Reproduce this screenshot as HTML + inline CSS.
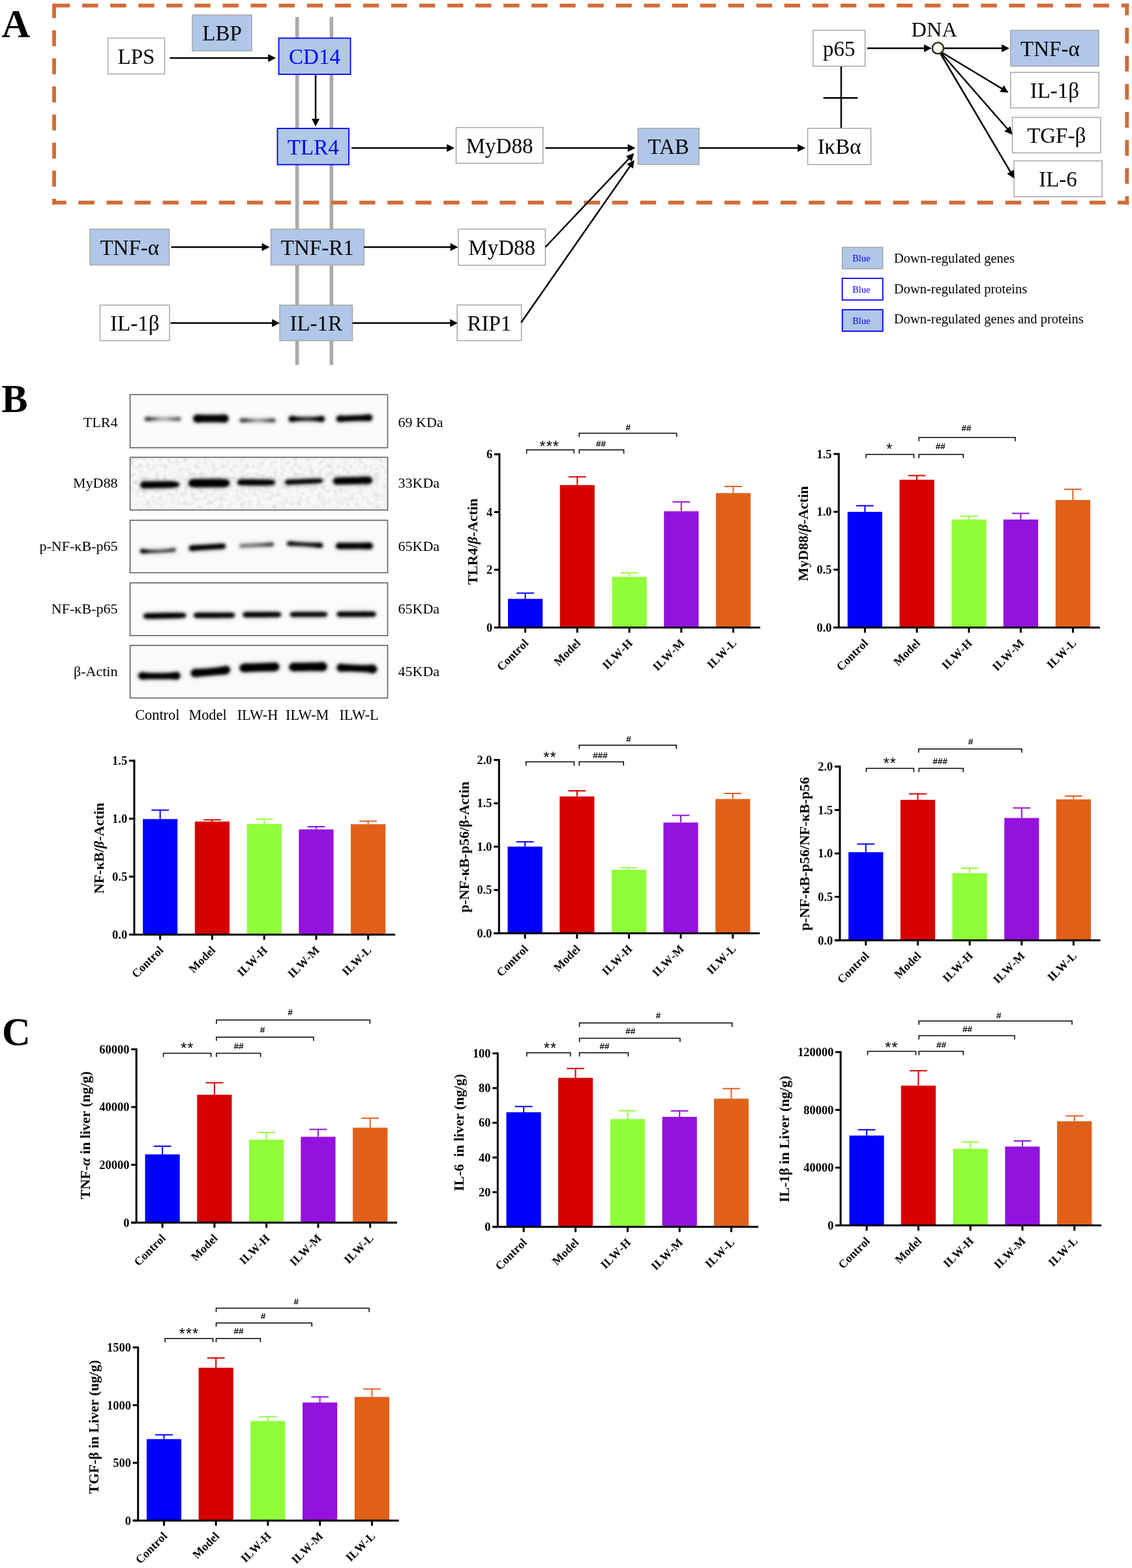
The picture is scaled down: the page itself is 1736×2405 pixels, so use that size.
<!DOCTYPE html>
<html><head><meta charset="utf-8"><title>Figure</title>
<style>html,body{margin:0;padding:0;background:#fff;}text{font-kerning:none;}body{width:1736px;height:2405px;overflow:hidden;}svg{display:block;}</style>
</head><body>
<svg width="1736" height="2405" viewBox="0 0 1736 2405">
<defs><filter id="bl" filterUnits="userSpaceOnUse" x="190" y="590" width="420" height="500"><feGaussianBlur stdDeviation="1.9"/></filter><filter id="bh" filterUnits="userSpaceOnUse" x="190" y="590" width="420" height="500"><feGaussianBlur stdDeviation="4.5"/></filter><filter id="nz" filterUnits="userSpaceOnUse" x="200" y="702" width="394" height="80"><feTurbulence type="fractalNoise" baseFrequency="0.16" numOctaves="3" seed="5"/><feColorMatrix type="matrix" values="0.85 0 0 0 0.51  0.85 0 0 0 0.51  0.85 0 0 0 0.51  0 0 0 0 0.7"/><feGaussianBlur stdDeviation="0.9"/></filter></defs>
<rect width="1736" height="2405" fill="#fff"/>
<rect x="452.8" y="25.9" width="5.7" height="533.9" fill="#aaaaaa"/>
<rect x="505.5" y="25.9" width="5.6" height="533.9" fill="#aaaaaa"/>
<rect x="83" y="5.6" width="24.4" height="5.8" fill="#d16b35"/>
<rect x="126.07" y="5.6" width="24.4" height="5.8" fill="#d16b35"/>
<rect x="169.14" y="5.6" width="24.4" height="5.8" fill="#d16b35"/>
<rect x="212.21" y="5.6" width="24.4" height="5.8" fill="#d16b35"/>
<rect x="255.28" y="5.6" width="24.4" height="5.8" fill="#d16b35"/>
<rect x="298.35" y="5.6" width="24.4" height="5.8" fill="#d16b35"/>
<rect x="341.42" y="5.6" width="24.4" height="5.8" fill="#d16b35"/>
<rect x="384.49" y="5.6" width="24.4" height="5.8" fill="#d16b35"/>
<rect x="427.56" y="5.6" width="24.4" height="5.8" fill="#d16b35"/>
<rect x="470.63" y="5.6" width="24.4" height="5.8" fill="#d16b35"/>
<rect x="513.7" y="5.6" width="24.4" height="5.8" fill="#d16b35"/>
<rect x="556.77" y="5.6" width="24.4" height="5.8" fill="#d16b35"/>
<rect x="599.84" y="5.6" width="24.4" height="5.8" fill="#d16b35"/>
<rect x="642.91" y="5.6" width="24.4" height="5.8" fill="#d16b35"/>
<rect x="685.98" y="5.6" width="24.4" height="5.8" fill="#d16b35"/>
<rect x="729.05" y="5.6" width="24.4" height="5.8" fill="#d16b35"/>
<rect x="772.12" y="5.6" width="24.4" height="5.8" fill="#d16b35"/>
<rect x="815.19" y="5.6" width="24.4" height="5.8" fill="#d16b35"/>
<rect x="858.26" y="5.6" width="24.4" height="5.8" fill="#d16b35"/>
<rect x="901.33" y="5.6" width="24.4" height="5.8" fill="#d16b35"/>
<rect x="944.4" y="5.6" width="24.4" height="5.8" fill="#d16b35"/>
<rect x="987.47" y="5.6" width="24.4" height="5.8" fill="#d16b35"/>
<rect x="1030.54" y="5.6" width="24.4" height="5.8" fill="#d16b35"/>
<rect x="1073.61" y="5.6" width="24.4" height="5.8" fill="#d16b35"/>
<rect x="1116.68" y="5.6" width="24.4" height="5.8" fill="#d16b35"/>
<rect x="1159.75" y="5.6" width="24.4" height="5.8" fill="#d16b35"/>
<rect x="1202.82" y="5.6" width="24.4" height="5.8" fill="#d16b35"/>
<rect x="1245.89" y="5.6" width="24.4" height="5.8" fill="#d16b35"/>
<rect x="1288.96" y="5.6" width="24.4" height="5.8" fill="#d16b35"/>
<rect x="1332.03" y="5.6" width="24.4" height="5.8" fill="#d16b35"/>
<rect x="1375.1" y="5.6" width="24.4" height="5.8" fill="#d16b35"/>
<rect x="1418.17" y="5.6" width="24.4" height="5.8" fill="#d16b35"/>
<rect x="1461.24" y="5.6" width="24.4" height="5.8" fill="#d16b35"/>
<rect x="1504.31" y="5.6" width="24.4" height="5.8" fill="#d16b35"/>
<rect x="1547.38" y="5.6" width="24.4" height="5.8" fill="#d16b35"/>
<rect x="1590.45" y="5.6" width="24.4" height="5.8" fill="#d16b35"/>
<rect x="1633.52" y="5.6" width="24.4" height="5.8" fill="#d16b35"/>
<rect x="1676.59" y="5.6" width="24.4" height="5.8" fill="#d16b35"/>
<rect x="1719.66" y="5.6" width="11.64" height="5.8" fill="#d16b35"/>
<rect x="80" y="307.8" width="21.7" height="5.8" fill="#d16b35"/>
<rect x="120.37" y="307.8" width="24.4" height="5.8" fill="#d16b35"/>
<rect x="163.44" y="307.8" width="24.4" height="5.8" fill="#d16b35"/>
<rect x="206.51" y="307.8" width="24.4" height="5.8" fill="#d16b35"/>
<rect x="249.58" y="307.8" width="24.4" height="5.8" fill="#d16b35"/>
<rect x="292.65" y="307.8" width="24.4" height="5.8" fill="#d16b35"/>
<rect x="335.72" y="307.8" width="24.4" height="5.8" fill="#d16b35"/>
<rect x="378.79" y="307.8" width="24.4" height="5.8" fill="#d16b35"/>
<rect x="421.86" y="307.8" width="24.4" height="5.8" fill="#d16b35"/>
<rect x="464.93" y="307.8" width="24.4" height="5.8" fill="#d16b35"/>
<rect x="508" y="307.8" width="24.4" height="5.8" fill="#d16b35"/>
<rect x="551.07" y="307.8" width="24.4" height="5.8" fill="#d16b35"/>
<rect x="594.14" y="307.8" width="24.4" height="5.8" fill="#d16b35"/>
<rect x="637.21" y="307.8" width="24.4" height="5.8" fill="#d16b35"/>
<rect x="680.28" y="307.8" width="24.4" height="5.8" fill="#d16b35"/>
<rect x="723.35" y="307.8" width="24.4" height="5.8" fill="#d16b35"/>
<rect x="766.42" y="307.8" width="24.4" height="5.8" fill="#d16b35"/>
<rect x="809.49" y="307.8" width="24.4" height="5.8" fill="#d16b35"/>
<rect x="852.56" y="307.8" width="24.4" height="5.8" fill="#d16b35"/>
<rect x="895.63" y="307.8" width="24.4" height="5.8" fill="#d16b35"/>
<rect x="938.7" y="307.8" width="24.4" height="5.8" fill="#d16b35"/>
<rect x="981.77" y="307.8" width="24.4" height="5.8" fill="#d16b35"/>
<rect x="1024.84" y="307.8" width="24.4" height="5.8" fill="#d16b35"/>
<rect x="1067.91" y="307.8" width="24.4" height="5.8" fill="#d16b35"/>
<rect x="1110.98" y="307.8" width="24.4" height="5.8" fill="#d16b35"/>
<rect x="1154.05" y="307.8" width="24.4" height="5.8" fill="#d16b35"/>
<rect x="1197.12" y="307.8" width="24.4" height="5.8" fill="#d16b35"/>
<rect x="1240.19" y="307.8" width="24.4" height="5.8" fill="#d16b35"/>
<rect x="1283.26" y="307.8" width="24.4" height="5.8" fill="#d16b35"/>
<rect x="1326.33" y="307.8" width="24.4" height="5.8" fill="#d16b35"/>
<rect x="1369.4" y="307.8" width="24.4" height="5.8" fill="#d16b35"/>
<rect x="1412.47" y="307.8" width="24.4" height="5.8" fill="#d16b35"/>
<rect x="1455.54" y="307.8" width="24.4" height="5.8" fill="#d16b35"/>
<rect x="1498.61" y="307.8" width="24.4" height="5.8" fill="#d16b35"/>
<rect x="1541.68" y="307.8" width="24.4" height="5.8" fill="#d16b35"/>
<rect x="1584.75" y="307.8" width="24.4" height="5.8" fill="#d16b35"/>
<rect x="1627.82" y="307.8" width="24.4" height="5.8" fill="#d16b35"/>
<rect x="1670.89" y="307.8" width="24.4" height="5.8" fill="#d16b35"/>
<rect x="1713.96" y="307.8" width="17.34" height="5.8" fill="#d16b35"/>
<rect x="80.1" y="5.6" width="5.8" height="22.2" fill="#d16b35"/>
<rect x="80.1" y="46.47" width="5.8" height="24.4" fill="#d16b35"/>
<rect x="80.1" y="89.54" width="5.8" height="24.4" fill="#d16b35"/>
<rect x="80.1" y="132.61" width="5.8" height="24.4" fill="#d16b35"/>
<rect x="80.1" y="175.68" width="5.8" height="24.4" fill="#d16b35"/>
<rect x="80.1" y="218.75" width="5.8" height="24.4" fill="#d16b35"/>
<rect x="80.1" y="261.82" width="5.8" height="24.4" fill="#d16b35"/>
<rect x="80.1" y="304.89" width="5.8" height="8.71" fill="#d16b35"/>
<rect x="1725.3" y="5.6" width="5.8" height="17.9" fill="#d16b35"/>
<rect x="1725.3" y="42.57" width="5.8" height="24" fill="#d16b35"/>
<rect x="1725.3" y="85.64" width="5.8" height="24" fill="#d16b35"/>
<rect x="1725.3" y="128.71" width="5.8" height="24" fill="#d16b35"/>
<rect x="1725.3" y="171.78" width="5.8" height="24" fill="#d16b35"/>
<rect x="1725.3" y="214.85" width="5.8" height="24" fill="#d16b35"/>
<rect x="1725.3" y="257.92" width="5.8" height="24" fill="#d16b35"/>
<rect x="1725.3" y="300.99" width="5.8" height="12.81" fill="#d16b35"/>
<rect x="165.5" y="58.5" width="87" height="55" fill="#fff" stroke="#a6a6a6" stroke-width="1.5"/>
<text x="209" y="97.8" font-family="'Liberation Serif', 'Times New Roman', serif" font-size="33" fill="#000" text-anchor="middle" font-weight="normal" style="font-kerning:normal" >LPS</text>
<rect x="295" y="23" width="91" height="55" fill="#b0c7e8" stroke="#a6a6a6" stroke-width="1.5"/>
<text x="340.5" y="62.3" font-family="'Liberation Serif', 'Times New Roman', serif" font-size="33" fill="#000" text-anchor="middle" font-weight="normal" style="font-kerning:normal" >LBP</text>
<rect x="427.5" y="58.5" width="110" height="55.5" fill="#b0c7e8" stroke="#0000ff" stroke-width="1.8"/>
<text x="482.5" y="98.05" font-family="'Liberation Serif', 'Times New Roman', serif" font-size="33" fill="#0000ff" text-anchor="middle" font-weight="normal" style="font-kerning:normal" >CD14</text>
<rect x="425.5" y="197" width="109.5" height="55.5" fill="#b0c7e8" stroke="#0000ff" stroke-width="1.8"/>
<text x="480.25" y="236.55" font-family="'Liberation Serif', 'Times New Roman', serif" font-size="33" fill="#0000ff" text-anchor="middle" font-weight="normal" style="font-kerning:normal" >TLR4</text>
<rect x="699.5" y="195.6" width="133.2" height="54.8" fill="#fff" stroke="#a6a6a6" stroke-width="1.5"/>
<text x="766.1" y="234.8" font-family="'Liberation Serif', 'Times New Roman', serif" font-size="33" fill="#000" text-anchor="middle" font-weight="normal" style="font-kerning:normal" >MyD88</text>
<rect x="978.4" y="196.8" width="93.6" height="55.6" fill="#b0c7e8" stroke="#a6a6a6" stroke-width="1.5"/>
<text x="1025.2" y="236.4" font-family="'Liberation Serif', 'Times New Roman', serif" font-size="33" fill="#000" text-anchor="middle" font-weight="normal" style="font-kerning:normal" >TAB</text>
<rect x="1238.6" y="196.8" width="97" height="55.6" fill="#fff" stroke="#a6a6a6" stroke-width="1.5"/>
<text x="1287.1" y="236.4" font-family="'Liberation Serif', 'Times New Roman', serif" font-size="33" fill="#000" text-anchor="middle" font-weight="normal" style="font-kerning:normal" >I&#954;B&#945;</text>
<rect x="1247" y="46.5" width="79.6" height="55" fill="#fff" stroke="#a6a6a6" stroke-width="1.5"/>
<text x="1286.8" y="85.8" font-family="'Liberation Serif', 'Times New Roman', serif" font-size="33" fill="#000" text-anchor="middle" font-weight="normal" style="font-kerning:normal" >p65</text>
<rect x="1549.8" y="46.5" width="135.2" height="55" fill="#b0c7e8" stroke="#a6a6a6" stroke-width="1.5"/>
<text x="1610.4" y="85.8" font-family="'Liberation Serif', 'Times New Roman', serif" font-size="33" fill="#000" text-anchor="middle" font-weight="normal" style="font-kerning:normal" >TNF-&#945;</text>
<rect x="1549.8" y="111" width="135.2" height="54.4" fill="#fff" stroke="#a6a6a6" stroke-width="1.5"/>
<text x="1617.4" y="150" font-family="'Liberation Serif', 'Times New Roman', serif" font-size="33" fill="#000" text-anchor="middle" font-weight="normal" style="font-kerning:normal" >IL-1&#946;</text>
<rect x="1552.6" y="180" width="135.2" height="54.4" fill="#fff" stroke="#a6a6a6" stroke-width="1.5"/>
<text x="1620.2" y="219" font-family="'Liberation Serif', 'Times New Roman', serif" font-size="33" fill="#000" text-anchor="middle" font-weight="normal" style="font-kerning:normal" >TGF-&#946;</text>
<rect x="1555" y="246.7" width="135" height="55" fill="#fff" stroke="#a6a6a6" stroke-width="1.5"/>
<text x="1622.5" y="286" font-family="'Liberation Serif', 'Times New Roman', serif" font-size="33" fill="#000" text-anchor="middle" font-weight="normal" style="font-kerning:normal" >IL-6</text>
<rect x="138" y="351.5" width="121.5" height="55" fill="#b0c7e8" stroke="#a6a6a6" stroke-width="1.5"/>
<text x="198.75" y="390.8" font-family="'Liberation Serif', 'Times New Roman', serif" font-size="33" fill="#000" text-anchor="middle" font-weight="normal" style="font-kerning:normal" >TNF-&#945;</text>
<rect x="415.5" y="351.5" width="142.5" height="55" fill="#b0c7e8" stroke="#a6a6a6" stroke-width="1.5"/>
<text x="486.75" y="390.8" font-family="'Liberation Serif', 'Times New Roman', serif" font-size="33" fill="#000" text-anchor="middle" font-weight="normal" style="font-kerning:normal" >TNF-R1</text>
<rect x="702.9" y="351.4" width="133.5" height="55.4" fill="#fff" stroke="#a6a6a6" stroke-width="1.5"/>
<text x="769.65" y="390.9" font-family="'Liberation Serif', 'Times New Roman', serif" font-size="33" fill="#000" text-anchor="middle" font-weight="normal" style="font-kerning:normal" >MyD88</text>
<rect x="153.5" y="468" width="106.5" height="54.5" fill="#fff" stroke="#a6a6a6" stroke-width="1.5"/>
<text x="206.75" y="507.05" font-family="'Liberation Serif', 'Times New Roman', serif" font-size="33" fill="#000" text-anchor="middle" font-weight="normal" style="font-kerning:normal" >IL-1&#946;</text>
<rect x="429" y="468" width="111.5" height="54.5" fill="#b0c7e8" stroke="#a6a6a6" stroke-width="1.5"/>
<text x="484.75" y="507.05" font-family="'Liberation Serif', 'Times New Roman', serif" font-size="33" fill="#000" text-anchor="middle" font-weight="normal" style="font-kerning:normal" >IL-1R</text>
<rect x="701.1" y="467.7" width="98.5" height="54.8" fill="#fff" stroke="#a6a6a6" stroke-width="1.5"/>
<text x="750.35" y="506.9" font-family="'Liberation Serif', 'Times New Roman', serif" font-size="33" fill="#000" text-anchor="middle" font-weight="normal" style="font-kerning:normal" >RIP1</text>
<line x1="260.5" y1="89" x2="412.2" y2="89" stroke="#000" stroke-width="2.5"/>
<polygon points="423,89 411.2,95 411.2,83" fill="#000"/>
<line x1="484" y1="115" x2="484" y2="183.2" stroke="#000" stroke-width="2.5"/>
<polygon points="484,194 478,182.2 490,182.2" fill="#000"/>
<line x1="539" y1="227" x2="686.2" y2="227" stroke="#000" stroke-width="2.5"/>
<polygon points="697,227 685.2,233 685.2,221" fill="#000"/>
<line x1="836.4" y1="227" x2="963.7" y2="227" stroke="#000" stroke-width="2.5"/>
<polygon points="974.5,227 962.7,233 962.7,221" fill="#000"/>
<line x1="1072" y1="227" x2="1224.2" y2="227" stroke="#000" stroke-width="2.5"/>
<polygon points="1235,227 1223.2,233 1223.2,221" fill="#000"/>
<line x1="262.5" y1="379" x2="402.7" y2="379" stroke="#000" stroke-width="2.5"/>
<polygon points="413.5,379 401.7,385 401.7,373" fill="#000"/>
<line x1="558" y1="379" x2="691.7" y2="379" stroke="#000" stroke-width="2.5"/>
<polygon points="702.5,379 690.7,385 690.7,373" fill="#000"/>
<line x1="261.5" y1="495.5" x2="418.2" y2="495.5" stroke="#000" stroke-width="2.5"/>
<polygon points="429,495.5 417.2,501.5 417.2,489.5" fill="#000"/>
<line x1="540.5" y1="495.5" x2="691.2" y2="495.5" stroke="#000" stroke-width="2.5"/>
<polygon points="702,495.5 690.2,501.5 690.2,489.5" fill="#000"/>
<line x1="836.4" y1="379" x2="964.98" y2="242.95" stroke="#000" stroke-width="2.5"/>
<polygon points="972.4,235.1 968.66,247.8 959.93,239.55" fill="#000"/>
<line x1="799.2" y1="494.7" x2="966.63" y2="254.36" stroke="#000" stroke-width="2.5"/>
<polygon points="972.8,245.5 970.98,258.61 961.13,251.75" fill="#000"/>
<line x1="1330" y1="74.1" x2="1418" y2="74.1" stroke="#000" stroke-width="2.5"/>
<polygon points="1428.8,74.1 1417,80.1 1417,68.1" fill="#000"/>
<line x1="1448" y1="74.1" x2="1537.2" y2="74.1" stroke="#000" stroke-width="2.5"/>
<polygon points="1548,74.1 1536.2,80.1 1536.2,68.1" fill="#000"/>
<line x1="1444.5" y1="80.5" x2="1537.25" y2="136.42" stroke="#000" stroke-width="2.5"/>
<polygon points="1546.5,142 1533.3,141.05 1539.49,130.77" fill="#000"/>
<line x1="1443.5" y1="81.5" x2="1545.5" y2="198.27" stroke="#000" stroke-width="2.5"/>
<polygon points="1552.6,206.4 1540.32,201.46 1549.36,193.57" fill="#000"/>
<line x1="1442.5" y1="82.5" x2="1550.01" y2="264.4" stroke="#000" stroke-width="2.5"/>
<polygon points="1555.5,273.7 1544.33,266.59 1554.66,260.49" fill="#000"/>
<line x1="1290" y1="102" x2="1290" y2="196" stroke="#000" stroke-width="2.4"/>
<line x1="1262.7" y1="150.3" x2="1315.4" y2="150.3" stroke="#000" stroke-width="2.4"/>
<circle cx="1438.4" cy="73.9" r="8.6" fill="#fff" stroke="#35350f" stroke-width="2.6"/>
<text x="1432.7" y="56" font-family="'Liberation Serif', 'Times New Roman', serif" font-size="32.4" fill="#000" text-anchor="middle" font-weight="normal" style="font-kerning:normal" >DNA</text>
<rect x="1291.7" y="379.3" width="62.1" height="33" fill="#b0c7e8" stroke="#a6a6a6" stroke-width="1.5"/>
<rect x="1291.7" y="426.9" width="62.1" height="33.3" fill="#fff" stroke="#0000ff" stroke-width="1.8"/>
<rect x="1291.7" y="475.1" width="62.1" height="32.9" fill="#b0c7e8" stroke="#0000ff" stroke-width="1.8"/>
<text x="1320.9" y="401.1" font-family="'Liberation Serif', 'Times New Roman', serif" font-size="14.5" fill="#0000ff" text-anchor="middle" font-weight="normal" style="font-kerning:normal" >Blue</text>
<text x="1320.9" y="448.8" font-family="'Liberation Serif', 'Times New Roman', serif" font-size="14.5" fill="#0000ff" text-anchor="middle" font-weight="normal" style="font-kerning:normal" >Blue</text>
<text x="1320.9" y="496.8" font-family="'Liberation Serif', 'Times New Roman', serif" font-size="14.5" fill="#0000ff" text-anchor="middle" font-weight="normal" style="font-kerning:normal" >Blue</text>
<text x="1370.9" y="402.5" font-family="'Liberation Serif', 'Times New Roman', serif" font-size="20.5" fill="#000" text-anchor="start" font-weight="normal" style="font-kerning:normal" >Down-regulated genes</text>
<text x="1370.9" y="450.1" font-family="'Liberation Serif', 'Times New Roman', serif" font-size="20.5" fill="#000" text-anchor="start" font-weight="normal" style="font-kerning:normal" >Down-regulated proteins</text>
<text x="1370.9" y="495.8" font-family="'Liberation Serif', 'Times New Roman', serif" font-size="20.5" fill="#000" text-anchor="start" font-weight="normal" style="font-kerning:normal" >Down-regulated genes and proteins</text>
<text x="2.6" y="56.5" font-family="'Liberation Serif', 'Times New Roman', serif" font-size="60.5" fill="#000" text-anchor="start" font-weight="bold" >A</text>
<text x="2.2" y="631.8" font-family="'Liberation Serif', 'Times New Roman', serif" font-size="60.5" fill="#000" text-anchor="start" font-weight="bold" >B</text>
<text x="3" y="1603" font-family="'Liberation Serif', 'Times New Roman', serif" font-size="60.5" fill="#000" text-anchor="start" font-weight="bold" >C</text>
<rect x="199.5" y="605.3" width="395" height="81.4" fill="#fbfbfb"/>
<rect x="199.5" y="701.4" width="395" height="80.9" fill="#ececec"/>
<rect x="199.5" y="798" width="395" height="80.5" fill="#fafafa"/>
<rect x="199.5" y="894" width="395" height="80.8" fill="#fcfcfc"/>
<rect x="199.5" y="989.9" width="395" height="80.7" fill="#fafafa"/>
<rect x="200" y="702" width="394" height="80" fill="#fff" filter="url(#nz)"/>
<linearGradient id="g1" gradientUnits="userSpaceOnUse" x1="221.4" y1="0" x2="278.2" y2="0"><stop offset="0" stop-color="#000" stop-opacity="0.75"/><stop offset="0.17" stop-color="#000" stop-opacity="0.75"/><stop offset="0.5" stop-color="#000" stop-opacity="0.22"/><stop offset="0.83" stop-color="#000" stop-opacity="0.55"/><stop offset="1" stop-color="#000" stop-opacity="0.55"/></linearGradient>
<polygon points="221.4,642.6 223.43,639.72 225.46,639.23 227.49,639.46 229.51,639.73 231.54,639.96 233.57,640.14 235.6,640.25 237.63,640.32 239.66,640.35 241.69,640.37 243.71,640.37 245.74,640.37 247.77,640.37 249.8,640.37 251.83,640.37 253.86,640.37 255.89,640.37 257.91,640.37 259.94,640.35 261.97,640.33 264,640.27 266.03,640.18 268.06,640.04 270.09,639.86 272.11,639.64 274.14,639.44 276.17,639.86 278.2,642.6 278.2,642.6 276.17,645.34 274.14,645.76 272.11,645.56 270.09,645.34 268.06,645.16 266.03,645.02 264,644.93 261.97,644.87 259.94,644.85 257.91,644.83 255.89,644.83 253.86,644.83 251.83,644.83 249.8,644.83 247.77,644.83 245.74,644.83 243.71,644.83 241.69,644.83 239.66,644.85 237.63,644.88 235.6,644.95 233.57,645.06 231.54,645.24 229.51,645.47 227.49,645.74 225.46,645.97 223.43,645.48 221.4,642.6" fill="#000" opacity="0.21" filter="url(#bh)"/>
<polygon points="221.4,642.6 223.43,639.72 225.46,639.23 227.49,639.46 229.51,639.73 231.54,639.96 233.57,640.14 235.6,640.25 237.63,640.32 239.66,640.35 241.69,640.37 243.71,640.37 245.74,640.37 247.77,640.37 249.8,640.37 251.83,640.37 253.86,640.37 255.89,640.37 257.91,640.37 259.94,640.35 261.97,640.33 264,640.27 266.03,640.18 268.06,640.04 270.09,639.86 272.11,639.64 274.14,639.44 276.17,639.86 278.2,642.6 278.2,642.6 276.17,645.34 274.14,645.76 272.11,645.56 270.09,645.34 268.06,645.16 266.03,645.02 264,644.93 261.97,644.87 259.94,644.85 257.91,644.83 255.89,644.83 253.86,644.83 251.83,644.83 249.8,644.83 247.77,644.83 245.74,644.83 243.71,644.83 241.69,644.83 239.66,644.85 237.63,644.88 235.6,644.95 233.57,645.06 231.54,645.24 229.51,645.47 227.49,645.74 225.46,645.97 223.43,645.48 221.4,642.6" fill="url(#g1)" filter="url(#bl)"/>
<linearGradient id="g2" gradientUnits="userSpaceOnUse" x1="295.9" y1="0" x2="350.9" y2="0"><stop offset="0" stop-color="#000" stop-opacity="1.0"/><stop offset="0.17" stop-color="#000" stop-opacity="1.0"/><stop offset="0.5" stop-color="#000" stop-opacity="1.0"/><stop offset="0.83" stop-color="#000" stop-opacity="1.0"/><stop offset="1" stop-color="#000" stop-opacity="1.0"/></linearGradient>
<polygon points="295.9,642 297.86,637.79 299.83,636.5 301.79,635.92 303.76,635.86 305.72,636.12 307.69,636.33 309.65,636.46 311.61,636.54 313.58,636.58 315.54,636.6 317.51,636.61 319.47,636.61 321.44,636.61 323.4,636.61 325.36,636.61 327.33,636.61 329.29,636.61 331.26,636.6 333.22,636.58 335.19,636.54 337.15,636.46 339.11,636.33 341.08,636.12 343.04,635.86 345.01,635.92 346.97,636.5 348.94,637.79 350.9,642 350.9,642 348.94,646.21 346.97,647.5 345.01,648.08 343.04,648.14 341.08,647.88 339.11,647.67 337.15,647.54 335.19,647.46 333.22,647.42 331.26,647.4 329.29,647.39 327.33,647.39 325.36,647.39 323.4,647.39 321.44,647.39 319.47,647.39 317.51,647.39 315.54,647.4 313.58,647.42 311.61,647.46 309.65,647.54 307.69,647.67 305.72,647.88 303.76,648.14 301.79,648.08 299.83,647.5 297.86,646.21 295.9,642" fill="#000" opacity="0.28" filter="url(#bh)"/>
<polygon points="295.9,642 297.86,637.79 299.83,636.5 301.79,635.92 303.76,635.86 305.72,636.12 307.69,636.33 309.65,636.46 311.61,636.54 313.58,636.58 315.54,636.6 317.51,636.61 319.47,636.61 321.44,636.61 323.4,636.61 325.36,636.61 327.33,636.61 329.29,636.61 331.26,636.6 333.22,636.58 335.19,636.54 337.15,636.46 339.11,636.33 341.08,636.12 343.04,635.86 345.01,635.92 346.97,636.5 348.94,637.79 350.9,642 350.9,642 348.94,646.21 346.97,647.5 345.01,648.08 343.04,648.14 341.08,647.88 339.11,647.67 337.15,647.54 335.19,647.46 333.22,647.42 331.26,647.4 329.29,647.39 327.33,647.39 325.36,647.39 323.4,647.39 321.44,647.39 319.47,647.39 317.51,647.39 315.54,647.4 313.58,647.42 311.61,647.46 309.65,647.54 307.69,647.67 305.72,647.88 303.76,648.14 301.79,648.08 299.83,647.5 297.86,646.21 295.9,642" fill="url(#g2)" filter="url(#bl)"/>
<linearGradient id="g3" gradientUnits="userSpaceOnUse" x1="367" y1="0" x2="423.2" y2="0"><stop offset="0" stop-color="#000" stop-opacity="0.75"/><stop offset="0.17" stop-color="#000" stop-opacity="0.75"/><stop offset="0.5" stop-color="#000" stop-opacity="0.3"/><stop offset="0.83" stop-color="#000" stop-opacity="0.65"/><stop offset="1" stop-color="#000" stop-opacity="0.65"/></linearGradient>
<polygon points="367,644.8 369.01,642.07 371.01,641.63 373.02,641.8 375.03,641.99 377.04,642.16 379.04,642.29 381.05,642.37 383.06,642.42 385.06,642.44 387.07,642.45 389.08,642.46 391.09,642.46 393.09,642.46 395.1,642.46 397.11,642.46 399.11,642.46 401.12,642.46 403.13,642.45 405.14,642.44 407.14,642.42 409.15,642.37 411.16,642.29 413.16,642.16 415.17,641.99 417.18,641.8 419.19,641.63 421.19,642.07 423.2,644.8 423.2,644.8 421.19,647.53 419.19,647.97 417.18,647.8 415.17,647.61 413.16,647.44 411.16,647.31 409.15,647.23 407.14,647.18 405.14,647.16 403.13,647.15 401.12,647.14 399.11,647.14 397.11,647.14 395.1,647.14 393.09,647.14 391.09,647.14 389.08,647.14 387.07,647.15 385.06,647.16 383.06,647.18 381.05,647.23 379.04,647.31 377.04,647.44 375.03,647.61 373.02,647.8 371.01,647.97 369.01,647.53 367,644.8" fill="#000" opacity="0.21" filter="url(#bh)"/>
<polygon points="367,644.8 369.01,642.07 371.01,641.63 373.02,641.8 375.03,641.99 377.04,642.16 379.04,642.29 381.05,642.37 383.06,642.42 385.06,642.44 387.07,642.45 389.08,642.46 391.09,642.46 393.09,642.46 395.1,642.46 397.11,642.46 399.11,642.46 401.12,642.46 403.13,642.45 405.14,642.44 407.14,642.42 409.15,642.37 411.16,642.29 413.16,642.16 415.17,641.99 417.18,641.8 419.19,641.63 421.19,642.07 423.2,644.8 423.2,644.8 421.19,647.53 419.19,647.97 417.18,647.8 415.17,647.61 413.16,647.44 411.16,647.31 409.15,647.23 407.14,647.18 405.14,647.16 403.13,647.15 401.12,647.14 399.11,647.14 397.11,647.14 395.1,647.14 393.09,647.14 391.09,647.14 389.08,647.14 387.07,647.15 385.06,647.16 383.06,647.18 381.05,647.23 379.04,647.31 377.04,647.44 375.03,647.61 373.02,647.8 371.01,647.97 369.01,647.53 367,644.8" fill="url(#g3)" filter="url(#bl)"/>
<linearGradient id="g4" gradientUnits="userSpaceOnUse" x1="442.2" y1="0" x2="498.4" y2="0"><stop offset="0" stop-color="#000" stop-opacity="1"/><stop offset="0.17" stop-color="#000" stop-opacity="1"/><stop offset="0.5" stop-color="#000" stop-opacity="0.75"/><stop offset="0.83" stop-color="#000" stop-opacity="1"/><stop offset="1" stop-color="#000" stop-opacity="1"/></linearGradient>
<polygon points="442.2,642.6 444.21,638.98 446.21,638.1 448.22,638.05 450.23,638.48 452.24,638.85 454.24,639.13 456.25,639.31 458.26,639.42 460.26,639.47 462.27,639.5 464.28,639.51 466.29,639.51 468.29,639.51 470.3,639.51 472.31,639.51 474.31,639.51 476.32,639.51 478.33,639.5 480.34,639.47 482.34,639.42 484.35,639.31 486.36,639.13 488.36,638.85 490.37,638.48 492.38,638.05 494.39,638.1 496.39,638.98 498.4,642.6 498.4,642.6 496.39,646.22 494.39,647.1 492.38,647.15 490.37,646.72 488.36,646.35 486.36,646.07 484.35,645.89 482.34,645.78 480.34,645.73 478.33,645.7 476.32,645.69 474.31,645.69 472.31,645.69 470.3,645.69 468.29,645.69 466.29,645.69 464.28,645.69 462.27,645.7 460.26,645.73 458.26,645.78 456.25,645.89 454.24,646.07 452.24,646.35 450.23,646.72 448.22,647.15 446.21,647.1 444.21,646.22 442.2,642.6" fill="#000" opacity="0.28" filter="url(#bh)"/>
<polygon points="442.2,642.6 444.21,638.98 446.21,638.1 448.22,638.05 450.23,638.48 452.24,638.85 454.24,639.13 456.25,639.31 458.26,639.42 460.26,639.47 462.27,639.5 464.28,639.51 466.29,639.51 468.29,639.51 470.3,639.51 472.31,639.51 474.31,639.51 476.32,639.51 478.33,639.5 480.34,639.47 482.34,639.42 484.35,639.31 486.36,639.13 488.36,638.85 490.37,638.48 492.38,638.05 494.39,638.1 496.39,638.98 498.4,642.6 498.4,642.6 496.39,646.22 494.39,647.1 492.38,647.15 490.37,646.72 488.36,646.35 486.36,646.07 484.35,645.89 482.34,645.78 480.34,645.73 478.33,645.7 476.32,645.69 474.31,645.69 472.31,645.69 470.3,645.69 468.29,645.69 466.29,645.69 464.28,645.69 462.27,645.7 460.26,645.73 458.26,645.78 456.25,645.89 454.24,646.07 452.24,646.35 450.23,646.72 448.22,647.15 446.21,647.1 444.21,646.22 442.2,642.6" fill="url(#g4)" filter="url(#bl)"/>
<linearGradient id="g5" gradientUnits="userSpaceOnUse" x1="515.3" y1="0" x2="571.5" y2="0"><stop offset="0" stop-color="#000" stop-opacity="1.0"/><stop offset="0.17" stop-color="#000" stop-opacity="1.0"/><stop offset="0.5" stop-color="#000" stop-opacity="1.0"/><stop offset="0.83" stop-color="#000" stop-opacity="1.0"/><stop offset="1" stop-color="#000" stop-opacity="1.0"/></linearGradient>
<polygon points="515.3,642.5 517.31,638.79 519.31,637.72 521.32,637.36 523.33,637.46 525.34,637.57 527.34,637.64 529.35,637.66 531.36,637.64 533.36,637.6 535.37,637.54 537.38,637.47 539.39,637.4 541.39,637.33 543.4,637.26 545.41,637.19 547.41,637.12 549.42,637.04 551.43,636.96 553.44,636.87 555.44,636.76 557.45,636.61 559.46,636.4 561.46,636.12 563.47,635.77 565.48,635.48 567.49,635.73 569.49,636.72 571.5,640.5 571.5,640.5 569.49,644.42 567.49,645.56 565.48,645.95 563.47,645.8 561.46,645.59 559.46,645.45 557.45,645.39 555.44,645.38 553.44,645.41 551.43,645.46 549.42,645.53 547.41,645.6 545.41,645.67 543.4,645.74 541.39,645.81 539.39,645.88 537.38,645.95 535.37,646.03 533.36,646.11 531.36,646.21 529.35,646.34 527.34,646.5 525.34,646.71 523.33,646.97 521.32,647.21 519.31,646.99 517.31,646.07 515.3,642.5" fill="#000" opacity="0.28" filter="url(#bh)"/>
<polygon points="515.3,642.5 517.31,638.79 519.31,637.72 521.32,637.36 523.33,637.46 525.34,637.57 527.34,637.64 529.35,637.66 531.36,637.64 533.36,637.6 535.37,637.54 537.38,637.47 539.39,637.4 541.39,637.33 543.4,637.26 545.41,637.19 547.41,637.12 549.42,637.04 551.43,636.96 553.44,636.87 555.44,636.76 557.45,636.61 559.46,636.4 561.46,636.12 563.47,635.77 565.48,635.48 567.49,635.73 569.49,636.72 571.5,640.5 571.5,640.5 569.49,644.42 567.49,645.56 565.48,645.95 563.47,645.8 561.46,645.59 559.46,645.45 557.45,645.39 555.44,645.38 553.44,645.41 551.43,645.46 549.42,645.53 547.41,645.6 545.41,645.67 543.4,645.74 541.39,645.81 539.39,645.88 537.38,645.95 535.37,646.03 533.36,646.11 531.36,646.21 529.35,646.34 527.34,646.5 525.34,646.71 523.33,646.97 521.32,647.21 519.31,646.99 517.31,646.07 515.3,642.5" fill="url(#g5)" filter="url(#bl)"/>
<linearGradient id="g6" gradientUnits="userSpaceOnUse" x1="214.7" y1="0" x2="275.7" y2="0"><stop offset="0" stop-color="#000" stop-opacity="1.0"/><stop offset="0.17" stop-color="#000" stop-opacity="1.0"/><stop offset="0.5" stop-color="#000" stop-opacity="1.0"/><stop offset="0.83" stop-color="#000" stop-opacity="1.0"/><stop offset="1" stop-color="#000" stop-opacity="1.0"/></linearGradient>
<polygon points="214.7,743.8 216.88,739.88 219.06,738.74 221.24,738.31 223.41,738.33 225.59,738.39 227.77,738.43 229.95,738.45 232.13,738.45 234.31,738.43 236.49,738.41 238.66,738.38 240.84,738.36 243.02,738.33 245.2,738.3 247.38,738.27 249.56,738.24 251.74,738.22 253.91,738.2 256.09,738.19 258.27,738.2 260.45,738.25 262.63,738.36 264.81,738.54 266.99,738.79 269.16,739.09 271.34,739.42 273.52,740.14 275.7,743 275.7,743 273.52,745.92 271.34,746.7 269.16,747.08 266.99,747.44 264.81,747.75 262.63,747.98 260.45,748.15 258.27,748.26 256.09,748.33 253.91,748.37 251.74,748.41 249.56,748.44 247.38,748.47 245.2,748.5 243.02,748.53 240.84,748.56 238.66,748.59 236.49,748.62 234.31,748.65 232.13,748.7 229.95,748.75 227.77,748.82 225.59,748.92 223.41,749.04 221.24,749.12 219.06,748.74 216.88,747.66 214.7,743.8" fill="#000" opacity="0.28" filter="url(#bh)"/>
<polygon points="214.7,743.8 216.88,739.88 219.06,738.74 221.24,738.31 223.41,738.33 225.59,738.39 227.77,738.43 229.95,738.45 232.13,738.45 234.31,738.43 236.49,738.41 238.66,738.38 240.84,738.36 243.02,738.33 245.2,738.3 247.38,738.27 249.56,738.24 251.74,738.22 253.91,738.2 256.09,738.19 258.27,738.2 260.45,738.25 262.63,738.36 264.81,738.54 266.99,738.79 269.16,739.09 271.34,739.42 273.52,740.14 275.7,743 275.7,743 273.52,745.92 271.34,746.7 269.16,747.08 266.99,747.44 264.81,747.75 262.63,747.98 260.45,748.15 258.27,748.26 256.09,748.33 253.91,748.37 251.74,748.41 249.56,748.44 247.38,748.47 245.2,748.5 243.02,748.53 240.84,748.56 238.66,748.59 236.49,748.62 234.31,748.65 232.13,748.7 229.95,748.75 227.77,748.82 225.59,748.92 223.41,749.04 221.24,749.12 219.06,748.74 216.88,747.66 214.7,743.8" fill="url(#g6)" filter="url(#bl)"/>
<linearGradient id="g7" gradientUnits="userSpaceOnUse" x1="288.6" y1="0" x2="352.7" y2="0"><stop offset="0" stop-color="#000" stop-opacity="1.0"/><stop offset="0.17" stop-color="#000" stop-opacity="1.0"/><stop offset="0.5" stop-color="#000" stop-opacity="1.0"/><stop offset="0.83" stop-color="#000" stop-opacity="1.0"/><stop offset="1" stop-color="#000" stop-opacity="1.0"/></linearGradient>
<polygon points="288.6,741 290.89,736.79 293.18,735.51 295.47,734.9 297.76,734.75 300.05,734.75 302.34,734.75 304.62,734.75 306.91,734.75 309.2,734.75 311.49,734.75 313.78,734.75 316.07,734.75 318.36,734.75 320.65,734.75 322.94,734.75 325.23,734.75 327.52,734.75 329.81,734.75 332.1,734.76 334.39,734.77 336.68,734.8 338.96,734.85 341.25,734.92 343.54,735.01 345.83,735.2 348.12,735.79 350.41,737 352.7,741 352.7,741 350.41,745 348.12,746.21 345.83,746.8 343.54,746.99 341.25,747.08 338.96,747.15 336.68,747.2 334.39,747.23 332.1,747.24 329.81,747.25 327.52,747.25 325.23,747.25 322.94,747.25 320.65,747.25 318.36,747.25 316.07,747.25 313.78,747.25 311.49,747.25 309.2,747.25 306.91,747.25 304.62,747.25 302.34,747.25 300.05,747.25 297.76,747.25 295.47,747.1 293.18,746.49 290.89,745.21 288.6,741" fill="#000" opacity="0.28" filter="url(#bh)"/>
<polygon points="288.6,741 290.89,736.79 293.18,735.51 295.47,734.9 297.76,734.75 300.05,734.75 302.34,734.75 304.62,734.75 306.91,734.75 309.2,734.75 311.49,734.75 313.78,734.75 316.07,734.75 318.36,734.75 320.65,734.75 322.94,734.75 325.23,734.75 327.52,734.75 329.81,734.75 332.1,734.76 334.39,734.77 336.68,734.8 338.96,734.85 341.25,734.92 343.54,735.01 345.83,735.2 348.12,735.79 350.41,737 352.7,741 352.7,741 350.41,745 348.12,746.21 345.83,746.8 343.54,746.99 341.25,747.08 338.96,747.15 336.68,747.2 334.39,747.23 332.1,747.24 329.81,747.25 327.52,747.25 325.23,747.25 322.94,747.25 320.65,747.25 318.36,747.25 316.07,747.25 313.78,747.25 311.49,747.25 309.2,747.25 306.91,747.25 304.62,747.25 302.34,747.25 300.05,747.25 297.76,747.25 295.47,747.1 293.18,746.49 290.89,745.21 288.6,741" fill="url(#g7)" filter="url(#bl)"/>
<linearGradient id="g8" gradientUnits="userSpaceOnUse" x1="363.5" y1="0" x2="422.5" y2="0"><stop offset="0" stop-color="#000" stop-opacity="1.0"/><stop offset="0.17" stop-color="#000" stop-opacity="1.0"/><stop offset="0.5" stop-color="#000" stop-opacity="1.0"/><stop offset="0.83" stop-color="#000" stop-opacity="1.0"/><stop offset="1" stop-color="#000" stop-opacity="1.0"/></linearGradient>
<polygon points="363.5,739.8 365.61,736.44 367.71,735.55 369.82,735.3 371.93,735.3 374.04,735.31 376.14,735.32 378.25,735.33 380.36,735.33 382.46,735.34 384.57,735.35 386.68,735.35 388.79,735.36 390.89,735.37 393,735.38 395.11,735.38 397.21,735.39 399.32,735.4 401.43,735.41 403.54,735.43 405.64,735.45 407.75,735.5 409.86,735.58 411.96,735.69 414.07,735.84 416.18,736 418.29,736.25 420.39,737.01 422.5,740 422.5,740 420.39,742.97 418.29,743.72 416.18,743.95 414.07,744.11 411.96,744.24 409.86,744.34 407.75,744.4 405.64,744.43 403.54,744.45 401.43,744.45 399.32,744.44 397.21,744.44 395.11,744.43 393,744.42 390.89,744.42 388.79,744.41 386.68,744.4 384.57,744.4 382.46,744.39 380.36,744.38 378.25,744.37 376.14,744.37 374.04,744.36 371.93,744.35 369.82,744.35 367.71,744.08 365.61,743.18 363.5,739.8" fill="#000" opacity="0.28" filter="url(#bh)"/>
<polygon points="363.5,739.8 365.61,736.44 367.71,735.55 369.82,735.3 371.93,735.3 374.04,735.31 376.14,735.32 378.25,735.33 380.36,735.33 382.46,735.34 384.57,735.35 386.68,735.35 388.79,735.36 390.89,735.37 393,735.38 395.11,735.38 397.21,735.39 399.32,735.4 401.43,735.41 403.54,735.43 405.64,735.45 407.75,735.5 409.86,735.58 411.96,735.69 414.07,735.84 416.18,736 418.29,736.25 420.39,737.01 422.5,740 422.5,740 420.39,742.97 418.29,743.72 416.18,743.95 414.07,744.11 411.96,744.24 409.86,744.34 407.75,744.4 405.64,744.43 403.54,744.45 401.43,744.45 399.32,744.44 397.21,744.44 395.11,744.43 393,744.42 390.89,744.42 388.79,744.41 386.68,744.4 384.57,744.4 382.46,744.39 380.36,744.38 378.25,744.37 376.14,744.37 374.04,744.36 371.93,744.35 369.82,744.35 367.71,744.08 365.61,743.18 363.5,739.8" fill="url(#g8)" filter="url(#bl)"/>
<linearGradient id="g9" gradientUnits="userSpaceOnUse" x1="436.6" y1="0" x2="495.6" y2="0"><stop offset="0" stop-color="#000" stop-opacity="1.0"/><stop offset="0.17" stop-color="#000" stop-opacity="1.0"/><stop offset="0.5" stop-color="#000" stop-opacity="1.0"/><stop offset="0.83" stop-color="#000" stop-opacity="1.0"/><stop offset="1" stop-color="#000" stop-opacity="1.0"/></linearGradient>
<polygon points="436.6,739.8 438.71,736.62 440.81,735.83 442.92,735.69 445.03,735.65 447.14,735.61 449.24,735.55 451.35,735.49 453.46,735.41 455.56,735.33 457.67,735.24 459.78,735.15 461.89,735.07 463.99,734.98 466.1,734.89 468.21,734.8 470.31,734.71 472.42,734.62 474.53,734.53 476.64,734.45 478.74,734.38 480.85,734.31 482.96,734.27 485.06,734.25 487.17,734.25 489.28,734.27 491.39,734.29 493.49,734.72 495.6,737.3 495.6,737.3 493.49,740.06 491.39,740.66 489.28,740.86 487.17,741.06 485.06,741.24 482.96,741.4 480.85,741.54 478.74,741.65 476.64,741.76 474.53,741.85 472.42,741.94 470.31,742.03 468.21,742.12 466.1,742.21 463.99,742.3 461.89,742.39 459.78,742.48 457.67,742.57 455.56,742.66 453.46,742.76 451.35,742.86 449.24,742.97 447.14,743.1 445.03,743.23 442.92,743.38 440.81,743.42 438.71,742.81 436.6,739.8" fill="#000" opacity="0.28" filter="url(#bh)"/>
<polygon points="436.6,739.8 438.71,736.62 440.81,735.83 442.92,735.69 445.03,735.65 447.14,735.61 449.24,735.55 451.35,735.49 453.46,735.41 455.56,735.33 457.67,735.24 459.78,735.15 461.89,735.07 463.99,734.98 466.1,734.89 468.21,734.8 470.31,734.71 472.42,734.62 474.53,734.53 476.64,734.45 478.74,734.38 480.85,734.31 482.96,734.27 485.06,734.25 487.17,734.25 489.28,734.27 491.39,734.29 493.49,734.72 495.6,737.3 495.6,737.3 493.49,740.06 491.39,740.66 489.28,740.86 487.17,741.06 485.06,741.24 482.96,741.4 480.85,741.54 478.74,741.65 476.64,741.76 474.53,741.85 472.42,741.94 470.31,742.03 468.21,742.12 466.1,742.21 463.99,742.3 461.89,742.39 459.78,742.48 457.67,742.57 455.56,742.66 453.46,742.76 451.35,742.86 449.24,742.97 447.14,743.1 445.03,743.23 442.92,743.38 440.81,743.42 438.71,742.81 436.6,739.8" fill="url(#g9)" filter="url(#bl)"/>
<linearGradient id="g10" gradientUnits="userSpaceOnUse" x1="510.3" y1="0" x2="571.5" y2="0"><stop offset="0" stop-color="#000" stop-opacity="1.0"/><stop offset="0.17" stop-color="#000" stop-opacity="1.0"/><stop offset="0.5" stop-color="#000" stop-opacity="1.0"/><stop offset="0.83" stop-color="#000" stop-opacity="1.0"/><stop offset="1" stop-color="#000" stop-opacity="1.0"/></linearGradient>
<polygon points="510.3,738 512.49,734.15 514.67,733 516.86,732.5 519.04,732.4 521.23,732.34 523.41,732.29 525.6,732.24 527.79,732.18 529.97,732.13 532.16,732.08 534.34,732.02 536.53,731.97 538.71,731.92 540.9,731.86 543.09,731.81 545.27,731.76 547.46,731.7 549.64,731.65 551.83,731.59 554.01,731.53 556.2,731.46 558.39,731.39 560.57,731.3 562.76,731.2 564.94,731.16 567.13,731.57 569.31,732.65 571.5,736.5 571.5,736.5 569.31,740.46 567.13,741.64 564.94,742.16 562.76,742.23 560.57,742.24 558.39,742.26 556.2,742.29 554.01,742.33 551.83,742.37 549.64,742.43 547.46,742.48 545.27,742.53 543.09,742.58 540.9,742.64 538.71,742.69 536.53,742.74 534.34,742.8 532.16,742.85 529.97,742.91 527.79,742.96 525.6,743.01 523.41,743.07 521.23,743.12 519.04,743.17 516.86,743.18 514.67,742.78 512.49,741.74 510.3,738" fill="#000" opacity="0.28" filter="url(#bh)"/>
<polygon points="510.3,738 512.49,734.15 514.67,733 516.86,732.5 519.04,732.4 521.23,732.34 523.41,732.29 525.6,732.24 527.79,732.18 529.97,732.13 532.16,732.08 534.34,732.02 536.53,731.97 538.71,731.92 540.9,731.86 543.09,731.81 545.27,731.76 547.46,731.7 549.64,731.65 551.83,731.59 554.01,731.53 556.2,731.46 558.39,731.39 560.57,731.3 562.76,731.2 564.94,731.16 567.13,731.57 569.31,732.65 571.5,736.5 571.5,736.5 569.31,740.46 567.13,741.64 564.94,742.16 562.76,742.23 560.57,742.24 558.39,742.26 556.2,742.29 554.01,742.33 551.83,742.37 549.64,742.43 547.46,742.48 545.27,742.53 543.09,742.58 540.9,742.64 538.71,742.69 536.53,742.74 534.34,742.8 532.16,742.85 529.97,742.91 527.79,742.96 525.6,743.01 523.41,743.07 521.23,743.12 519.04,743.17 516.86,743.18 514.67,742.78 512.49,741.74 510.3,738" fill="url(#g10)" filter="url(#bl)"/>
<linearGradient id="g11" gradientUnits="userSpaceOnUse" x1="214.4" y1="0" x2="270.2" y2="0"><stop offset="0" stop-color="#000" stop-opacity="1"/><stop offset="0.17" stop-color="#000" stop-opacity="1"/><stop offset="0.5" stop-color="#000" stop-opacity="0.7"/><stop offset="0.83" stop-color="#000" stop-opacity="0.75"/><stop offset="1" stop-color="#000" stop-opacity="0.75"/></linearGradient>
<polygon points="214.4,845.2 216.39,842.45 218.39,842.06 220.38,842.36 222.37,842.7 224.36,842.99 226.36,843.21 228.35,843.35 230.34,843.43 232.34,843.46 234.33,843.47 236.32,843.44 238.31,843.4 240.31,843.35 242.3,843.27 244.29,843.19 246.29,843.09 248.28,842.97 250.27,842.84 252.26,842.69 254.26,842.51 256.25,842.3 258.24,842.05 260.24,841.74 262.23,841.39 264.22,841 266.21,840.6 268.21,840.69 270.2,843 270.2,843 268.21,845.85 266.21,846.46 264.22,846.55 262.23,846.61 260.24,846.69 258.24,846.78 256.25,846.9 254.26,847.03 252.26,847.17 250.27,847.3 248.28,847.43 246.29,847.54 244.29,847.64 242.3,847.73 240.31,847.8 238.31,847.85 236.32,847.9 234.33,847.93 232.34,847.96 230.34,848 228.35,848.05 226.36,848.14 224.36,848.27 222.37,848.44 220.38,848.64 218.39,848.77 216.39,848.18 214.4,845.2" fill="#000" opacity="0.28" filter="url(#bh)"/>
<polygon points="214.4,845.2 216.39,842.45 218.39,842.06 220.38,842.36 222.37,842.7 224.36,842.99 226.36,843.21 228.35,843.35 230.34,843.43 232.34,843.46 234.33,843.47 236.32,843.44 238.31,843.4 240.31,843.35 242.3,843.27 244.29,843.19 246.29,843.09 248.28,842.97 250.27,842.84 252.26,842.69 254.26,842.51 256.25,842.3 258.24,842.05 260.24,841.74 262.23,841.39 264.22,841 266.21,840.6 268.21,840.69 270.2,843 270.2,843 268.21,845.85 266.21,846.46 264.22,846.55 262.23,846.61 260.24,846.69 258.24,846.78 256.25,846.9 254.26,847.03 252.26,847.17 250.27,847.3 248.28,847.43 246.29,847.54 244.29,847.64 242.3,847.73 240.31,847.8 238.31,847.85 236.32,847.9 234.33,847.93 232.34,847.96 230.34,848 228.35,848.05 226.36,848.14 224.36,848.27 222.37,848.44 220.38,848.64 218.39,848.77 216.39,848.18 214.4,845.2" fill="url(#g11)" filter="url(#bl)"/>
<linearGradient id="g12" gradientUnits="userSpaceOnUse" x1="289.2" y1="0" x2="346.6" y2="0"><stop offset="0" stop-color="#000" stop-opacity="1.0"/><stop offset="0.17" stop-color="#000" stop-opacity="1.0"/><stop offset="0.5" stop-color="#000" stop-opacity="1.0"/><stop offset="0.83" stop-color="#000" stop-opacity="1.0"/><stop offset="1" stop-color="#000" stop-opacity="1.0"/></linearGradient>
<polygon points="289.2,841 291.25,837.55 293.3,836.59 295.35,836.31 297.4,836.29 299.45,836.26 301.5,836.2 303.55,836.12 305.6,836.03 307.65,835.91 309.7,835.8 311.75,835.67 313.8,835.55 315.85,835.42 317.9,835.3 319.95,835.17 322,835.05 324.05,834.92 326.1,834.8 328.15,834.67 330.2,834.54 332.25,834.4 334.3,834.25 336.35,834.09 338.4,833.92 340.45,833.74 342.5,833.76 344.55,834.43 346.6,837.5 346.6,837.5 344.55,840.82 342.5,841.74 340.45,842.01 338.4,842.08 336.35,842.16 334.3,842.25 332.25,842.35 330.2,842.46 328.15,842.58 326.1,842.7 324.05,842.83 322,842.95 319.95,843.08 317.9,843.2 315.85,843.33 313.8,843.45 311.75,843.58 309.7,843.7 307.65,843.84 305.6,843.97 303.55,844.13 301.5,844.3 299.45,844.49 297.4,844.71 295.35,844.94 293.3,844.91 291.25,844.2 289.2,841" fill="#000" opacity="0.28" filter="url(#bh)"/>
<polygon points="289.2,841 291.25,837.55 293.3,836.59 295.35,836.31 297.4,836.29 299.45,836.26 301.5,836.2 303.55,836.12 305.6,836.03 307.65,835.91 309.7,835.8 311.75,835.67 313.8,835.55 315.85,835.42 317.9,835.3 319.95,835.17 322,835.05 324.05,834.92 326.1,834.8 328.15,834.67 330.2,834.54 332.25,834.4 334.3,834.25 336.35,834.09 338.4,833.92 340.45,833.74 342.5,833.76 344.55,834.43 346.6,837.5 346.6,837.5 344.55,840.82 342.5,841.74 340.45,842.01 338.4,842.08 336.35,842.16 334.3,842.25 332.25,842.35 330.2,842.46 328.15,842.58 326.1,842.7 324.05,842.83 322,842.95 319.95,843.08 317.9,843.2 315.85,843.33 313.8,843.45 311.75,843.58 309.7,843.7 307.65,843.84 305.6,843.97 303.55,844.13 301.5,844.3 299.45,844.49 297.4,844.71 295.35,844.94 293.3,844.91 291.25,844.2 289.2,841" fill="url(#g12)" filter="url(#bl)"/>
<linearGradient id="g13" gradientUnits="userSpaceOnUse" x1="366.3" y1="0" x2="420.4" y2="0"><stop offset="0" stop-color="#000" stop-opacity="0.45"/><stop offset="0.17" stop-color="#000" stop-opacity="0.45"/><stop offset="0.5" stop-color="#000" stop-opacity="0.5"/><stop offset="0.83" stop-color="#000" stop-opacity="0.7"/><stop offset="1" stop-color="#000" stop-opacity="0.7"/></linearGradient>
<polygon points="366.3,837.4 368.23,834.75 370.16,834.2 372.1,834.15 374.03,834.11 375.96,834.07 377.89,834.02 379.82,833.95 381.76,833.87 383.69,833.79 385.62,833.71 387.55,833.62 389.49,833.53 391.42,833.44 393.35,833.35 395.28,833.26 397.21,833.17 399.15,833.08 401.08,832.99 403.01,832.89 404.94,832.79 406.88,832.67 408.81,832.54 410.74,832.38 412.67,832.2 414.6,832 416.54,831.85 418.47,832.28 420.4,834.9 420.4,834.9 418.47,837.7 416.54,838.31 414.6,838.34 412.67,838.32 410.74,838.31 408.81,838.33 406.88,838.38 404.94,838.44 403.01,838.51 401.08,838.6 399.15,838.68 397.21,838.77 395.28,838.86 393.35,838.95 391.42,839.04 389.49,839.13 387.55,839.22 385.62,839.31 383.69,839.4 381.76,839.5 379.82,839.6 377.89,839.71 375.96,839.84 374.03,839.97 372.1,840.12 370.16,840.24 368.23,839.88 366.3,837.4" fill="#000" opacity="0.2" filter="url(#bh)"/>
<polygon points="366.3,837.4 368.23,834.75 370.16,834.2 372.1,834.15 374.03,834.11 375.96,834.07 377.89,834.02 379.82,833.95 381.76,833.87 383.69,833.79 385.62,833.71 387.55,833.62 389.49,833.53 391.42,833.44 393.35,833.35 395.28,833.26 397.21,833.17 399.15,833.08 401.08,832.99 403.01,832.89 404.94,832.79 406.88,832.67 408.81,832.54 410.74,832.38 412.67,832.2 414.6,832 416.54,831.85 418.47,832.28 420.4,834.9 420.4,834.9 418.47,837.7 416.54,838.31 414.6,838.34 412.67,838.32 410.74,838.31 408.81,838.33 406.88,838.38 404.94,838.44 403.01,838.51 401.08,838.6 399.15,838.68 397.21,838.77 395.28,838.86 393.35,838.95 391.42,839.04 389.49,839.13 387.55,839.22 385.62,839.31 383.69,839.4 381.76,839.5 379.82,839.6 377.89,839.71 375.96,839.84 374.03,839.97 372.1,840.12 370.16,840.24 368.23,839.88 366.3,837.4" fill="url(#g13)" filter="url(#bl)"/>
<linearGradient id="g14" gradientUnits="userSpaceOnUse" x1="439.4" y1="0" x2="495.6" y2="0"><stop offset="0" stop-color="#000" stop-opacity="0.95"/><stop offset="0.17" stop-color="#000" stop-opacity="0.95"/><stop offset="0.5" stop-color="#000" stop-opacity="0.85"/><stop offset="0.83" stop-color="#000" stop-opacity="1"/><stop offset="1" stop-color="#000" stop-opacity="1"/></linearGradient>
<polygon points="439.4,833.5 441.41,830.72 443.41,830.23 445.42,830.38 447.43,830.6 449.44,830.8 451.44,830.98 453.45,831.14 455.46,831.27 457.46,831.4 459.47,831.52 461.48,831.63 463.49,831.74 465.49,831.85 467.5,831.96 469.51,832.07 471.51,832.18 473.52,832.29 475.53,832.4 477.54,832.5 479.54,832.58 481.55,832.64 483.56,832.66 485.56,832.63 487.57,832.55 489.58,832.45 491.59,832.52 493.59,833.34 495.6,836.6 495.6,836.6 493.59,839.64 491.59,840.24 489.58,840.09 487.57,839.76 485.56,839.46 483.56,839.21 481.55,839.01 479.54,838.85 477.54,838.71 475.53,838.59 473.52,838.47 471.51,838.36 469.51,838.25 467.5,838.14 465.49,838.03 463.49,837.92 461.48,837.81 459.47,837.7 457.46,837.59 455.46,837.5 453.45,837.41 451.44,837.35 449.44,837.31 447.43,837.29 445.42,837.29 443.41,837.21 441.41,836.5 439.4,833.5" fill="#000" opacity="0.28" filter="url(#bh)"/>
<polygon points="439.4,833.5 441.41,830.72 443.41,830.23 445.42,830.38 447.43,830.6 449.44,830.8 451.44,830.98 453.45,831.14 455.46,831.27 457.46,831.4 459.47,831.52 461.48,831.63 463.49,831.74 465.49,831.85 467.5,831.96 469.51,832.07 471.51,832.18 473.52,832.29 475.53,832.4 477.54,832.5 479.54,832.58 481.55,832.64 483.56,832.66 485.56,832.63 487.57,832.55 489.58,832.45 491.59,832.52 493.59,833.34 495.6,836.6 495.6,836.6 493.59,839.64 491.59,840.24 489.58,840.09 487.57,839.76 485.56,839.46 483.56,839.21 481.55,839.01 479.54,838.85 477.54,838.71 475.53,838.59 473.52,838.47 471.51,838.36 469.51,838.25 467.5,838.14 465.49,838.03 463.49,837.92 461.48,837.81 459.47,837.7 457.46,837.59 455.46,837.5 453.45,837.41 451.44,837.35 449.44,837.31 447.43,837.29 445.42,837.29 443.41,837.21 441.41,836.5 439.4,833.5" fill="url(#g14)" filter="url(#bl)"/>
<linearGradient id="g15" gradientUnits="userSpaceOnUse" x1="514.6" y1="0" x2="572.2" y2="0"><stop offset="0" stop-color="#000" stop-opacity="1.0"/><stop offset="0.17" stop-color="#000" stop-opacity="1.0"/><stop offset="0.5" stop-color="#000" stop-opacity="1.0"/><stop offset="0.83" stop-color="#000" stop-opacity="1.0"/><stop offset="1" stop-color="#000" stop-opacity="1.0"/></linearGradient>
<polygon points="514.6,837.4 516.66,833.83 518.71,832.84 520.77,832.52 522.83,832.6 524.89,832.69 526.94,832.76 529,832.8 531.06,832.82 533.11,832.83 535.17,832.84 537.23,832.83 539.29,832.83 541.34,832.83 543.4,832.82 545.46,832.82 547.51,832.82 549.57,832.81 551.63,832.8 553.69,832.79 555.74,832.76 557.8,832.7 559.86,832.61 561.91,832.46 563.97,832.27 566.03,832.12 568.09,832.46 570.14,833.51 572.2,837.3 572.2,837.3 570.14,841.09 568.09,842.15 566.03,842.5 563.97,842.36 561.91,842.17 559.86,842.04 557.8,841.95 555.74,841.9 553.69,841.88 551.63,841.87 549.57,841.87 547.51,841.87 545.46,841.87 543.4,841.88 541.34,841.88 539.29,841.88 537.23,841.89 535.17,841.89 533.11,841.9 531.06,841.92 529,841.95 526.94,842 524.89,842.07 522.83,842.17 520.77,842.26 518.71,841.95 516.66,840.97 514.6,837.4" fill="#000" opacity="0.28" filter="url(#bh)"/>
<polygon points="514.6,837.4 516.66,833.83 518.71,832.84 520.77,832.52 522.83,832.6 524.89,832.69 526.94,832.76 529,832.8 531.06,832.82 533.11,832.83 535.17,832.84 537.23,832.83 539.29,832.83 541.34,832.83 543.4,832.82 545.46,832.82 547.51,832.82 549.57,832.81 551.63,832.8 553.69,832.79 555.74,832.76 557.8,832.7 559.86,832.61 561.91,832.46 563.97,832.27 566.03,832.12 568.09,832.46 570.14,833.51 572.2,837.3 572.2,837.3 570.14,841.09 568.09,842.15 566.03,842.5 563.97,842.36 561.91,842.17 559.86,842.04 557.8,841.95 555.74,841.9 553.69,841.88 551.63,841.87 549.57,841.87 547.51,841.87 545.46,841.87 543.4,841.88 541.34,841.88 539.29,841.88 537.23,841.89 535.17,841.89 533.11,841.9 531.06,841.92 529,841.95 526.94,842 524.89,842.07 522.83,842.17 520.77,842.26 518.71,841.95 516.66,840.97 514.6,837.4" fill="url(#g15)" filter="url(#bl)"/>
<linearGradient id="g16" gradientUnits="userSpaceOnUse" x1="219.5" y1="0" x2="286.1" y2="0"><stop offset="0" stop-color="#000" stop-opacity="1.0"/><stop offset="0.17" stop-color="#000" stop-opacity="1.0"/><stop offset="0.5" stop-color="#000" stop-opacity="1.0"/><stop offset="0.83" stop-color="#000" stop-opacity="1.0"/><stop offset="1" stop-color="#000" stop-opacity="1.0"/></linearGradient>
<polygon points="219.5,945 221.88,941.56 224.26,940.76 226.64,940.63 229.01,940.59 231.39,940.55 233.77,940.51 236.15,940.46 238.53,940.42 240.91,940.38 243.29,940.33 245.66,940.29 248.04,940.25 250.42,940.21 252.8,940.16 255.18,940.12 257.56,940.08 259.94,940.04 262.31,940 264.69,939.96 267.07,939.94 269.45,939.94 271.83,939.96 274.21,940.02 276.59,940.12 278.96,940.24 281.34,940.36 283.72,940.89 286.1,943.8 286.1,943.8 283.72,946.8 281.34,947.41 278.96,947.62 276.59,947.82 274.21,948 271.83,948.15 269.45,948.26 267.07,948.34 264.69,948.41 262.31,948.46 259.94,948.51 257.56,948.55 255.18,948.59 252.8,948.64 250.42,948.68 248.04,948.72 245.66,948.77 243.29,948.81 240.91,948.85 238.53,948.89 236.15,948.94 233.77,948.98 231.39,949.02 229.01,949.07 226.64,949.11 224.26,949.07 221.88,948.35 219.5,945" fill="#000" opacity="0.28" filter="url(#bh)"/>
<polygon points="219.5,945 221.88,941.56 224.26,940.76 226.64,940.63 229.01,940.59 231.39,940.55 233.77,940.51 236.15,940.46 238.53,940.42 240.91,940.38 243.29,940.33 245.66,940.29 248.04,940.25 250.42,940.21 252.8,940.16 255.18,940.12 257.56,940.08 259.94,940.04 262.31,940 264.69,939.96 267.07,939.94 269.45,939.94 271.83,939.96 274.21,940.02 276.59,940.12 278.96,940.24 281.34,940.36 283.72,940.89 286.1,943.8 286.1,943.8 283.72,946.8 281.34,947.41 278.96,947.62 276.59,947.82 274.21,948 271.83,948.15 269.45,948.26 267.07,948.34 264.69,948.41 262.31,948.46 259.94,948.51 257.56,948.55 255.18,948.59 252.8,948.64 250.42,948.68 248.04,948.72 245.66,948.77 243.29,948.81 240.91,948.85 238.53,948.89 236.15,948.94 233.77,948.98 231.39,949.02 229.01,949.07 226.64,949.11 224.26,949.07 221.88,948.35 219.5,945" fill="url(#g16)" filter="url(#bl)"/>
<linearGradient id="g17" gradientUnits="userSpaceOnUse" x1="296.5" y1="0" x2="360.7" y2="0"><stop offset="0" stop-color="#000" stop-opacity="1.0"/><stop offset="0.17" stop-color="#000" stop-opacity="1.0"/><stop offset="0.5" stop-color="#000" stop-opacity="1.0"/><stop offset="0.83" stop-color="#000" stop-opacity="1.0"/><stop offset="1" stop-color="#000" stop-opacity="1.0"/></linearGradient>
<polygon points="296.5,943.8 298.79,940.59 301.09,939.89 303.38,939.83 305.67,939.82 307.96,939.81 310.26,939.81 312.55,939.8 314.84,939.79 317.14,939.79 319.43,939.78 321.72,939.77 324.01,939.76 326.31,939.76 328.6,939.75 330.89,939.74 333.19,939.74 335.48,939.73 337.77,939.72 340.06,939.72 342.36,939.72 344.65,939.73 346.94,939.74 349.24,939.77 351.53,939.81 353.82,939.86 356.11,939.93 358.41,940.55 360.7,943.6 360.7,943.6 358.41,946.67 356.11,947.3 353.82,947.39 351.53,947.45 349.24,947.5 346.94,947.55 344.65,947.57 342.36,947.6 340.06,947.61 337.77,947.62 335.48,947.63 333.19,947.64 330.89,947.64 328.6,947.65 326.31,947.66 324.01,947.66 321.72,947.67 319.43,947.68 317.14,947.69 314.84,947.69 312.55,947.7 310.26,947.71 307.96,947.71 305.67,947.72 303.38,947.73 301.09,947.68 298.79,947 296.5,943.8" fill="#000" opacity="0.28" filter="url(#bh)"/>
<polygon points="296.5,943.8 298.79,940.59 301.09,939.89 303.38,939.83 305.67,939.82 307.96,939.81 310.26,939.81 312.55,939.8 314.84,939.79 317.14,939.79 319.43,939.78 321.72,939.77 324.01,939.76 326.31,939.76 328.6,939.75 330.89,939.74 333.19,939.74 335.48,939.73 337.77,939.72 340.06,939.72 342.36,939.72 344.65,939.73 346.94,939.74 349.24,939.77 351.53,939.81 353.82,939.86 356.11,939.93 358.41,940.55 360.7,943.6 360.7,943.6 358.41,946.67 356.11,947.3 353.82,947.39 351.53,947.45 349.24,947.5 346.94,947.55 344.65,947.57 342.36,947.6 340.06,947.61 337.77,947.62 335.48,947.63 333.19,947.64 330.89,947.64 328.6,947.65 326.31,947.66 324.01,947.66 321.72,947.67 319.43,947.68 317.14,947.69 314.84,947.69 312.55,947.7 310.26,947.71 307.96,947.71 305.67,947.72 303.38,947.73 301.09,947.68 298.79,947 296.5,943.8" fill="url(#g17)" filter="url(#bl)"/>
<linearGradient id="g18" gradientUnits="userSpaceOnUse" x1="371.9" y1="0" x2="431.7" y2="0"><stop offset="0" stop-color="#000" stop-opacity="1.0"/><stop offset="0.17" stop-color="#000" stop-opacity="1.0"/><stop offset="0.5" stop-color="#000" stop-opacity="1.0"/><stop offset="0.83" stop-color="#000" stop-opacity="1.0"/><stop offset="1" stop-color="#000" stop-opacity="1.0"/></linearGradient>
<polygon points="371.9,942.8 374.04,939.67 376.17,938.94 378.31,938.83 380.44,938.82 382.58,938.81 384.71,938.81 386.85,938.8 388.99,938.79 391.12,938.79 393.26,938.78 395.39,938.77 397.53,938.76 399.66,938.76 401.8,938.75 403.94,938.74 406.07,938.74 408.21,938.73 410.34,938.72 412.48,938.72 414.61,938.72 416.75,938.73 418.89,938.74 421.02,938.77 423.16,938.81 425.29,938.86 427.43,938.96 429.56,939.63 431.7,942.6 431.7,942.6 429.56,945.59 427.43,946.27 425.29,946.39 423.16,946.45 421.02,946.5 418.89,946.55 416.75,946.57 414.61,946.6 412.48,946.61 410.34,946.62 408.21,946.63 406.07,946.64 403.94,946.64 401.8,946.65 399.66,946.66 397.53,946.66 395.39,946.67 393.26,946.68 391.12,946.69 388.99,946.69 386.85,946.7 384.71,946.71 382.58,946.71 380.44,946.72 378.31,946.73 376.17,946.63 374.04,945.91 371.9,942.8" fill="#000" opacity="0.28" filter="url(#bh)"/>
<polygon points="371.9,942.8 374.04,939.67 376.17,938.94 378.31,938.83 380.44,938.82 382.58,938.81 384.71,938.81 386.85,938.8 388.99,938.79 391.12,938.79 393.26,938.78 395.39,938.77 397.53,938.76 399.66,938.76 401.8,938.75 403.94,938.74 406.07,938.74 408.21,938.73 410.34,938.72 412.48,938.72 414.61,938.72 416.75,938.73 418.89,938.74 421.02,938.77 423.16,938.81 425.29,938.86 427.43,938.96 429.56,939.63 431.7,942.6 431.7,942.6 429.56,945.59 427.43,946.27 425.29,946.39 423.16,946.45 421.02,946.5 418.89,946.55 416.75,946.57 414.61,946.6 412.48,946.61 410.34,946.62 408.21,946.63 406.07,946.64 403.94,946.64 401.8,946.65 399.66,946.66 397.53,946.66 395.39,946.67 393.26,946.68 391.12,946.69 388.99,946.69 386.85,946.7 384.71,946.71 382.58,946.71 380.44,946.72 378.31,946.73 376.17,946.63 374.04,945.91 371.9,942.8" fill="url(#g18)" filter="url(#bl)"/>
<linearGradient id="g19" gradientUnits="userSpaceOnUse" x1="444.3" y1="0" x2="502.6" y2="0"><stop offset="0" stop-color="#000" stop-opacity="1.0"/><stop offset="0.17" stop-color="#000" stop-opacity="1.0"/><stop offset="0.5" stop-color="#000" stop-opacity="1.0"/><stop offset="0.83" stop-color="#000" stop-opacity="1.0"/><stop offset="1" stop-color="#000" stop-opacity="1.0"/></linearGradient>
<polygon points="444.3,942.5 446.38,939.55 448.46,938.89 450.55,938.82 452.63,938.81 454.71,938.8 456.79,938.79 458.88,938.79 460.96,938.78 463.04,938.77 465.12,938.77 467.2,938.76 469.29,938.75 471.37,938.74 473.45,938.74 475.53,938.73 477.61,938.72 479.7,938.72 481.78,938.71 483.86,938.71 485.94,938.71 488.03,938.71 490.11,938.73 492.19,938.76 494.27,938.8 496.35,938.84 498.44,938.92 500.52,939.5 502.6,942.3 502.6,942.3 500.52,945.11 498.44,945.71 496.35,945.8 494.27,945.86 492.19,945.92 490.11,945.96 488.03,945.99 485.94,946.01 483.86,946.02 481.78,946.03 479.7,946.04 477.61,946.05 475.53,946.06 473.45,946.06 471.37,946.07 469.29,946.08 467.2,946.08 465.12,946.09 463.04,946.1 460.96,946.11 458.88,946.11 456.79,946.12 454.71,946.13 452.63,946.13 450.55,946.14 448.46,946.08 446.38,945.44 444.3,942.5" fill="#000" opacity="0.28" filter="url(#bh)"/>
<polygon points="444.3,942.5 446.38,939.55 448.46,938.89 450.55,938.82 452.63,938.81 454.71,938.8 456.79,938.79 458.88,938.79 460.96,938.78 463.04,938.77 465.12,938.77 467.2,938.76 469.29,938.75 471.37,938.74 473.45,938.74 475.53,938.73 477.61,938.72 479.7,938.72 481.78,938.71 483.86,938.71 485.94,938.71 488.03,938.71 490.11,938.73 492.19,938.76 494.27,938.8 496.35,938.84 498.44,938.92 500.52,939.5 502.6,942.3 502.6,942.3 500.52,945.11 498.44,945.71 496.35,945.8 494.27,945.86 492.19,945.92 490.11,945.96 488.03,945.99 485.94,946.01 483.86,946.02 481.78,946.03 479.7,946.04 477.61,946.05 475.53,946.06 473.45,946.06 471.37,946.07 469.29,946.08 467.2,946.08 465.12,946.09 463.04,946.1 460.96,946.11 458.88,946.11 456.79,946.12 454.71,946.13 452.63,946.13 450.55,946.14 448.46,946.08 446.38,945.44 444.3,942.5" fill="url(#g19)" filter="url(#bl)"/>
<linearGradient id="g20" gradientUnits="userSpaceOnUse" x1="516" y1="0" x2="577.1" y2="0"><stop offset="0" stop-color="#000" stop-opacity="1.0"/><stop offset="0.17" stop-color="#000" stop-opacity="1.0"/><stop offset="0.5" stop-color="#000" stop-opacity="1.0"/><stop offset="0.83" stop-color="#000" stop-opacity="1.0"/><stop offset="1" stop-color="#000" stop-opacity="1.0"/></linearGradient>
<polygon points="516,942.2 518.18,939.05 520.36,938.32 522.55,938.23 524.73,938.22 526.91,938.21 529.09,938.21 531.27,938.2 533.46,938.19 535.64,938.19 537.82,938.18 540,938.17 542.19,938.16 544.37,938.16 546.55,938.15 548.73,938.14 550.91,938.14 553.1,938.13 555.28,938.12 557.46,938.12 559.64,938.12 561.83,938.13 564.01,938.14 566.19,938.17 568.37,938.21 570.55,938.26 572.74,938.35 574.92,939 577.1,942 577.1,942 574.92,945.01 572.74,945.68 570.55,945.79 568.37,945.85 566.19,945.9 564.01,945.95 561.83,945.97 559.64,946 557.46,946.01 555.28,946.02 553.1,946.03 550.91,946.04 548.73,946.04 546.55,946.05 544.37,946.06 542.19,946.06 540,946.07 537.82,946.08 535.64,946.09 533.46,946.09 531.27,946.1 529.09,946.11 526.91,946.11 524.73,946.12 522.55,946.13 520.36,946.05 518.18,945.34 516,942.2" fill="#000" opacity="0.28" filter="url(#bh)"/>
<polygon points="516,942.2 518.18,939.05 520.36,938.32 522.55,938.23 524.73,938.22 526.91,938.21 529.09,938.21 531.27,938.2 533.46,938.19 535.64,938.19 537.82,938.18 540,938.17 542.19,938.16 544.37,938.16 546.55,938.15 548.73,938.14 550.91,938.14 553.1,938.13 555.28,938.12 557.46,938.12 559.64,938.12 561.83,938.13 564.01,938.14 566.19,938.17 568.37,938.21 570.55,938.26 572.74,938.35 574.92,939 577.1,942 577.1,942 574.92,945.01 572.74,945.68 570.55,945.79 568.37,945.85 566.19,945.9 564.01,945.95 561.83,945.97 559.64,946 557.46,946.01 555.28,946.02 553.1,946.03 550.91,946.04 548.73,946.04 546.55,946.05 544.37,946.06 542.19,946.06 540,946.07 537.82,946.08 535.64,946.09 533.46,946.09 531.27,946.1 529.09,946.11 526.91,946.11 524.73,946.12 522.55,946.13 520.36,946.05 518.18,945.34 516,942.2" fill="url(#g20)" filter="url(#bl)"/>
<linearGradient id="g21" gradientUnits="userSpaceOnUse" x1="211.6" y1="0" x2="277" y2="0"><stop offset="0" stop-color="#000" stop-opacity="1.0"/><stop offset="0.17" stop-color="#000" stop-opacity="1.0"/><stop offset="0.5" stop-color="#000" stop-opacity="1.0"/><stop offset="0.83" stop-color="#000" stop-opacity="1.0"/><stop offset="1" stop-color="#000" stop-opacity="1.0"/></linearGradient>
<polygon points="211.6,1036.5 213.94,1032.36 216.27,1031.31 218.61,1031.12 220.94,1031.47 223.28,1031.81 225.61,1032.06 227.95,1032.24 230.29,1032.35 232.62,1032.42 234.96,1032.45 237.29,1032.47 239.63,1032.48 241.96,1032.48 244.3,1032.47 246.64,1032.46 248.97,1032.44 251.31,1032.41 253.64,1032.37 255.98,1032.3 258.31,1032.21 260.65,1032.06 262.99,1031.84 265.32,1031.53 267.66,1031.13 269.99,1030.73 272.33,1030.91 274.66,1031.98 277,1036.2 277,1036.2 274.66,1040.63 272.33,1041.88 269.99,1042.24 267.66,1041.99 265.32,1041.74 262.99,1041.56 260.65,1041.46 258.31,1041.42 255.98,1041.42 253.64,1041.44 251.31,1041.47 248.97,1041.49 246.64,1041.51 244.3,1041.53 241.96,1041.53 239.63,1041.53 237.29,1041.53 234.96,1041.53 232.62,1041.53 230.29,1041.54 227.95,1041.59 225.61,1041.69 223.28,1041.85 220.94,1042.08 218.61,1042.31 216.27,1041.99 213.94,1040.8 211.6,1036.5" fill="#000" opacity="0.28" filter="url(#bh)"/>
<polygon points="211.6,1036.5 213.94,1032.36 216.27,1031.31 218.61,1031.12 220.94,1031.47 223.28,1031.81 225.61,1032.06 227.95,1032.24 230.29,1032.35 232.62,1032.42 234.96,1032.45 237.29,1032.47 239.63,1032.48 241.96,1032.48 244.3,1032.47 246.64,1032.46 248.97,1032.44 251.31,1032.41 253.64,1032.37 255.98,1032.3 258.31,1032.21 260.65,1032.06 262.99,1031.84 265.32,1031.53 267.66,1031.13 269.99,1030.73 272.33,1030.91 274.66,1031.98 277,1036.2 277,1036.2 274.66,1040.63 272.33,1041.88 269.99,1042.24 267.66,1041.99 265.32,1041.74 262.99,1041.56 260.65,1041.46 258.31,1041.42 255.98,1041.42 253.64,1041.44 251.31,1041.47 248.97,1041.49 246.64,1041.51 244.3,1041.53 241.96,1041.53 239.63,1041.53 237.29,1041.53 234.96,1041.53 232.62,1041.53 230.29,1041.54 227.95,1041.59 225.61,1041.69 223.28,1041.85 220.94,1042.08 218.61,1042.31 216.27,1041.99 213.94,1040.8 211.6,1036.5" fill="url(#g21)" filter="url(#bl)"/>
<linearGradient id="g22" gradientUnits="userSpaceOnUse" x1="292.2" y1="0" x2="353.3" y2="0"><stop offset="0" stop-color="#000" stop-opacity="1.0"/><stop offset="0.17" stop-color="#000" stop-opacity="1.0"/><stop offset="0.5" stop-color="#000" stop-opacity="1.0"/><stop offset="0.83" stop-color="#000" stop-opacity="1.0"/><stop offset="1" stop-color="#000" stop-opacity="1.0"/></linearGradient>
<polygon points="292.2,1032.5 294.38,1028.09 296.56,1026.69 298.75,1026.03 300.93,1025.89 303.11,1025.95 305.29,1025.96 307.48,1025.91 309.66,1025.82 311.84,1025.69 314.02,1025.54 316.2,1025.38 318.39,1025.2 320.57,1025.02 322.75,1024.82 324.93,1024.62 327.11,1024.42 329.3,1024.2 331.48,1023.97 333.66,1023.72 335.84,1023.44 338.02,1023.11 340.21,1022.72 342.39,1022.25 344.57,1021.7 346.75,1021.43 348.94,1021.72 351.12,1022.79 353.3,1027 353.3,1027 351.12,1031.81 348.94,1033.46 346.75,1034.32 344.57,1034.6 342.39,1034.59 340.21,1034.65 338.02,1034.76 335.84,1034.93 333.66,1035.13 331.48,1035.34 329.3,1035.56 327.11,1035.77 324.93,1035.98 322.75,1036.18 320.57,1036.37 318.39,1036.55 316.2,1036.73 314.02,1036.91 311.84,1037.08 309.66,1037.26 307.48,1037.46 305.29,1037.69 303.11,1037.96 300.93,1038.27 298.75,1038.37 296.56,1037.92 294.38,1036.73 292.2,1032.5" fill="#000" opacity="0.28" filter="url(#bh)"/>
<polygon points="292.2,1032.5 294.38,1028.09 296.56,1026.69 298.75,1026.03 300.93,1025.89 303.11,1025.95 305.29,1025.96 307.48,1025.91 309.66,1025.82 311.84,1025.69 314.02,1025.54 316.2,1025.38 318.39,1025.2 320.57,1025.02 322.75,1024.82 324.93,1024.62 327.11,1024.42 329.3,1024.2 331.48,1023.97 333.66,1023.72 335.84,1023.44 338.02,1023.11 340.21,1022.72 342.39,1022.25 344.57,1021.7 346.75,1021.43 348.94,1021.72 351.12,1022.79 353.3,1027 353.3,1027 351.12,1031.81 348.94,1033.46 346.75,1034.32 344.57,1034.6 342.39,1034.59 340.21,1034.65 338.02,1034.76 335.84,1034.93 333.66,1035.13 331.48,1035.34 329.3,1035.56 327.11,1035.77 324.93,1035.98 322.75,1036.18 320.57,1036.37 318.39,1036.55 316.2,1036.73 314.02,1036.91 311.84,1037.08 309.66,1037.26 307.48,1037.46 305.29,1037.69 303.11,1037.96 300.93,1038.27 298.75,1038.37 296.56,1037.92 294.38,1036.73 292.2,1032.5" fill="url(#g22)" filter="url(#bl)"/>
<linearGradient id="g23" gradientUnits="userSpaceOnUse" x1="367" y1="0" x2="428.8" y2="0"><stop offset="0" stop-color="#000" stop-opacity="1.0"/><stop offset="0.17" stop-color="#000" stop-opacity="1.0"/><stop offset="0.5" stop-color="#000" stop-opacity="1.0"/><stop offset="0.83" stop-color="#000" stop-opacity="1.0"/><stop offset="1" stop-color="#000" stop-opacity="1.0"/></linearGradient>
<polygon points="367,1024.6 369.21,1020.08 371.41,1018.63 373.62,1017.91 375.83,1017.68 378.04,1017.74 380.24,1017.78 382.45,1017.77 384.66,1017.74 386.86,1017.69 389.07,1017.63 391.28,1017.56 393.49,1017.49 395.69,1017.42 397.9,1017.35 400.11,1017.28 402.31,1017.21 404.52,1017.13 406.73,1017.06 408.94,1016.98 411.14,1016.89 413.35,1016.77 415.56,1016.64 417.76,1016.46 419.97,1016.26 422.18,1016.34 424.39,1016.92 426.59,1018.22 428.8,1022.6 428.8,1022.6 426.59,1027.12 424.39,1028.57 422.18,1029.29 419.97,1029.52 417.76,1029.46 415.56,1029.42 413.35,1029.43 411.14,1029.46 408.94,1029.51 406.73,1029.57 404.52,1029.64 402.31,1029.71 400.11,1029.78 397.9,1029.85 395.69,1029.92 393.49,1029.99 391.28,1030.07 389.07,1030.14 386.86,1030.22 384.66,1030.31 382.45,1030.43 380.24,1030.56 378.04,1030.74 375.83,1030.94 373.62,1030.86 371.41,1030.28 369.21,1028.98 367,1024.6" fill="#000" opacity="0.28" filter="url(#bh)"/>
<polygon points="367,1024.6 369.21,1020.08 371.41,1018.63 373.62,1017.91 375.83,1017.68 378.04,1017.74 380.24,1017.78 382.45,1017.77 384.66,1017.74 386.86,1017.69 389.07,1017.63 391.28,1017.56 393.49,1017.49 395.69,1017.42 397.9,1017.35 400.11,1017.28 402.31,1017.21 404.52,1017.13 406.73,1017.06 408.94,1016.98 411.14,1016.89 413.35,1016.77 415.56,1016.64 417.76,1016.46 419.97,1016.26 422.18,1016.34 424.39,1016.92 426.59,1018.22 428.8,1022.6 428.8,1022.6 426.59,1027.12 424.39,1028.57 422.18,1029.29 419.97,1029.52 417.76,1029.46 415.56,1029.42 413.35,1029.43 411.14,1029.46 408.94,1029.51 406.73,1029.57 404.52,1029.64 402.31,1029.71 400.11,1029.78 397.9,1029.85 395.69,1029.92 393.49,1029.99 391.28,1030.07 389.07,1030.14 386.86,1030.22 384.66,1030.31 382.45,1030.43 380.24,1030.56 378.04,1030.74 375.83,1030.94 373.62,1030.86 371.41,1030.28 369.21,1028.98 367,1024.6" fill="url(#g23)" filter="url(#bl)"/>
<linearGradient id="g24" gradientUnits="userSpaceOnUse" x1="442.9" y1="0" x2="501.9" y2="0"><stop offset="0" stop-color="#000" stop-opacity="1.0"/><stop offset="0.17" stop-color="#000" stop-opacity="1.0"/><stop offset="0.5" stop-color="#000" stop-opacity="1.0"/><stop offset="0.83" stop-color="#000" stop-opacity="1.0"/><stop offset="1" stop-color="#000" stop-opacity="1.0"/></linearGradient>
<polygon points="442.9,1023.2 445.01,1018.91 447.11,1017.55 449.22,1016.85 451.33,1016.61 453.44,1016.66 455.54,1016.7 457.65,1016.72 459.76,1016.73 461.86,1016.71 463.97,1016.7 466.08,1016.67 468.19,1016.65 470.29,1016.62 472.4,1016.6 474.51,1016.57 476.61,1016.55 478.72,1016.52 480.83,1016.49 482.94,1016.44 485.04,1016.38 487.15,1016.27 489.26,1016.11 491.36,1015.88 493.47,1015.65 495.58,1015.79 497.69,1016.46 499.79,1017.89 501.9,1022.5 501.9,1022.5 499.79,1027.16 497.69,1028.64 495.58,1029.36 493.47,1029.55 491.36,1029.37 489.26,1029.19 487.15,1029.08 485.04,1029.02 482.94,1029.01 480.83,1029.01 478.72,1029.03 476.61,1029.05 474.51,1029.08 472.4,1029.1 470.29,1029.13 468.19,1029.15 466.08,1029.18 463.97,1029.2 461.86,1029.24 459.76,1029.27 457.65,1029.33 455.54,1029.4 453.44,1029.49 451.33,1029.59 449.22,1029.4 447.11,1028.75 445.01,1027.44 442.9,1023.2" fill="#000" opacity="0.28" filter="url(#bh)"/>
<polygon points="442.9,1023.2 445.01,1018.91 447.11,1017.55 449.22,1016.85 451.33,1016.61 453.44,1016.66 455.54,1016.7 457.65,1016.72 459.76,1016.73 461.86,1016.71 463.97,1016.7 466.08,1016.67 468.19,1016.65 470.29,1016.62 472.4,1016.6 474.51,1016.57 476.61,1016.55 478.72,1016.52 480.83,1016.49 482.94,1016.44 485.04,1016.38 487.15,1016.27 489.26,1016.11 491.36,1015.88 493.47,1015.65 495.58,1015.79 497.69,1016.46 499.79,1017.89 501.9,1022.5 501.9,1022.5 499.79,1027.16 497.69,1028.64 495.58,1029.36 493.47,1029.55 491.36,1029.37 489.26,1029.19 487.15,1029.08 485.04,1029.02 482.94,1029.01 480.83,1029.01 478.72,1029.03 476.61,1029.05 474.51,1029.08 472.4,1029.1 470.29,1029.13 468.19,1029.15 466.08,1029.18 463.97,1029.2 461.86,1029.24 459.76,1029.27 457.65,1029.33 455.54,1029.4 453.44,1029.49 451.33,1029.59 449.22,1029.4 447.11,1028.75 445.01,1027.44 442.9,1023.2" fill="url(#g24)" filter="url(#bl)"/>
<linearGradient id="g25" gradientUnits="userSpaceOnUse" x1="516" y1="0" x2="578.5" y2="0"><stop offset="0" stop-color="#000" stop-opacity="1.0"/><stop offset="0.17" stop-color="#000" stop-opacity="1.0"/><stop offset="0.5" stop-color="#000" stop-opacity="1.0"/><stop offset="0.83" stop-color="#000" stop-opacity="1.0"/><stop offset="1" stop-color="#000" stop-opacity="1.0"/></linearGradient>
<polygon points="516,1024 518.23,1019.7 520.46,1018.51 522.7,1018.13 524.93,1018.36 527.16,1018.7 529.39,1018.98 531.62,1019.19 533.86,1019.34 536.09,1019.45 538.32,1019.55 540.55,1019.64 542.79,1019.73 545.02,1019.81 547.25,1019.9 549.48,1019.99 551.71,1020.08 553.95,1020.17 556.18,1020.26 558.41,1020.33 560.64,1020.36 562.88,1020.34 565.11,1020.22 567.34,1019.98 569.57,1019.62 571.8,1019.54 574.04,1020.14 576.27,1021.64 578.5,1026.5 578.5,1026.5 576.27,1031.11 574.04,1032.37 571.8,1032.73 569.57,1032.42 567.34,1031.83 565.11,1031.37 562.88,1031.04 560.64,1030.8 558.41,1030.63 556.18,1030.5 553.95,1030.39 551.71,1030.29 549.48,1030.19 547.25,1030.1 545.02,1030.01 542.79,1029.93 540.55,1029.85 538.32,1029.78 536.09,1029.72 533.86,1029.68 531.62,1029.69 529.39,1029.75 527.16,1029.9 524.93,1030.11 522.7,1030.21 520.46,1029.71 518.23,1028.41 516,1024" fill="#000" opacity="0.28" filter="url(#bh)"/>
<polygon points="516,1024 518.23,1019.7 520.46,1018.51 522.7,1018.13 524.93,1018.36 527.16,1018.7 529.39,1018.98 531.62,1019.19 533.86,1019.34 536.09,1019.45 538.32,1019.55 540.55,1019.64 542.79,1019.73 545.02,1019.81 547.25,1019.9 549.48,1019.99 551.71,1020.08 553.95,1020.17 556.18,1020.26 558.41,1020.33 560.64,1020.36 562.88,1020.34 565.11,1020.22 567.34,1019.98 569.57,1019.62 571.8,1019.54 574.04,1020.14 576.27,1021.64 578.5,1026.5 578.5,1026.5 576.27,1031.11 574.04,1032.37 571.8,1032.73 569.57,1032.42 567.34,1031.83 565.11,1031.37 562.88,1031.04 560.64,1030.8 558.41,1030.63 556.18,1030.5 553.95,1030.39 551.71,1030.29 549.48,1030.19 547.25,1030.1 545.02,1030.01 542.79,1029.93 540.55,1029.85 538.32,1029.78 536.09,1029.72 533.86,1029.68 531.62,1029.69 529.39,1029.75 527.16,1029.9 524.93,1030.11 522.7,1030.21 520.46,1029.71 518.23,1028.41 516,1024" fill="url(#g25)" filter="url(#bl)"/>
<rect x="199.5" y="605.3" width="395" height="81.4" fill="none" stroke="#606060" stroke-width="1.6"/>
<rect x="199.5" y="701.4" width="395" height="80.9" fill="none" stroke="#606060" stroke-width="1.6"/>
<rect x="199.5" y="798" width="395" height="80.5" fill="none" stroke="#606060" stroke-width="1.6"/>
<rect x="199.5" y="894" width="395" height="80.8" fill="none" stroke="#606060" stroke-width="1.6"/>
<rect x="199.5" y="989.9" width="395" height="80.7" fill="none" stroke="#606060" stroke-width="1.6"/>
<text x="180.4" y="655" font-family="'Liberation Serif', 'Times New Roman', serif" font-size="22" fill="#000" text-anchor="end" font-weight="normal" style="font-kerning:normal" >TLR4</text>
<text x="610.6" y="655" font-family="'Liberation Serif', 'Times New Roman', serif" font-size="22" fill="#000" text-anchor="start" font-weight="normal" style="font-kerning:normal" >69 KDa</text>
<text x="180.4" y="748.4" font-family="'Liberation Serif', 'Times New Roman', serif" font-size="22" fill="#000" text-anchor="end" font-weight="normal" style="font-kerning:normal" >MyD88</text>
<text x="610.6" y="748.4" font-family="'Liberation Serif', 'Times New Roman', serif" font-size="22" fill="#000" text-anchor="start" font-weight="normal" style="font-kerning:normal" >33KDa</text>
<text x="180.4" y="844.7" font-family="'Liberation Serif', 'Times New Roman', serif" font-size="22" fill="#000" text-anchor="end" font-weight="normal" style="font-kerning:normal" >p-NF-&#954;B-p65</text>
<text x="610.6" y="844.7" font-family="'Liberation Serif', 'Times New Roman', serif" font-size="22" fill="#000" text-anchor="start" font-weight="normal" style="font-kerning:normal" >65KDa</text>
<text x="180.4" y="940.6" font-family="'Liberation Serif', 'Times New Roman', serif" font-size="22" fill="#000" text-anchor="end" font-weight="normal" style="font-kerning:normal" >NF-&#954;B-p65</text>
<text x="610.6" y="940.6" font-family="'Liberation Serif', 'Times New Roman', serif" font-size="22" fill="#000" text-anchor="start" font-weight="normal" style="font-kerning:normal" >65KDa</text>
<text x="180.4" y="1036.6" font-family="'Liberation Serif', 'Times New Roman', serif" font-size="22" fill="#000" text-anchor="end" font-weight="normal" style="font-kerning:normal" >&#946;-Actin</text>
<text x="610.6" y="1036.6" font-family="'Liberation Serif', 'Times New Roman', serif" font-size="22" fill="#000" text-anchor="start" font-weight="normal" style="font-kerning:normal" >45KDa</text>
<text x="241.3" y="1103.8" font-family="'Liberation Serif', 'Times New Roman', serif" font-size="22.3" fill="#000" text-anchor="middle" font-weight="normal" style="font-kerning:normal" >Control</text>
<text x="318.5" y="1103.8" font-family="'Liberation Serif', 'Times New Roman', serif" font-size="22.3" fill="#000" text-anchor="middle" font-weight="normal" style="font-kerning:normal" >Model</text>
<text x="395" y="1103.8" font-family="'Liberation Serif', 'Times New Roman', serif" font-size="22.3" fill="#000" text-anchor="middle" font-weight="normal" style="font-kerning:normal" >ILW-H</text>
<text x="471.2" y="1103.8" font-family="'Liberation Serif', 'Times New Roman', serif" font-size="22.3" fill="#000" text-anchor="middle" font-weight="normal" style="font-kerning:normal" >ILW-M</text>
<text x="550.5" y="1103.8" font-family="'Liberation Serif', 'Times New Roman', serif" font-size="22.3" fill="#000" text-anchor="middle" font-weight="normal" style="font-kerning:normal" >ILW-L</text>
<rect x="779" y="918.5" width="53.2" height="44" fill="#0000ff"/>
<line x1="805.6" y1="909.7" x2="805.6" y2="918.5" stroke="#0000ff" stroke-width="2"/>
<line x1="792.2" y1="909.7" x2="819" y2="909.7" stroke="#0000ff" stroke-width="2"/>
<rect x="858.7" y="744" width="53.2" height="218.5" fill="#d60000"/>
<line x1="885.3" y1="731.4" x2="885.3" y2="744" stroke="#d60000" stroke-width="2"/>
<line x1="871.9" y1="731.4" x2="898.7" y2="731.4" stroke="#d60000" stroke-width="2"/>
<rect x="938.6" y="884.8" width="53.2" height="77.7" fill="#90ff3a"/>
<line x1="965.2" y1="878.6" x2="965.2" y2="884.8" stroke="#90ff3a" stroke-width="2"/>
<line x1="951.8" y1="878.6" x2="978.6" y2="878.6" stroke="#90ff3a" stroke-width="2"/>
<rect x="1018.2" y="784.2" width="53.2" height="178.3" fill="#9412de"/>
<line x1="1044.8" y1="769.8" x2="1044.8" y2="784.2" stroke="#9412de" stroke-width="2"/>
<line x1="1031.4" y1="769.8" x2="1058.2" y2="769.8" stroke="#9412de" stroke-width="2"/>
<rect x="1097.9" y="756.3" width="53.2" height="206.2" fill="#e0601a"/>
<line x1="1124.5" y1="746.1" x2="1124.5" y2="756.3" stroke="#e0601a" stroke-width="2"/>
<line x1="1111.1" y1="746.1" x2="1137.9" y2="746.1" stroke="#e0601a" stroke-width="2"/>
<line x1="765.9" y1="695.3" x2="765.9" y2="962.5" stroke="#000" stroke-width="3"/>
<line x1="757.9" y1="962.5" x2="1165.8" y2="962.5" stroke="#000" stroke-width="3"/>
<line x1="757.9" y1="962.5" x2="765.9" y2="962.5" stroke="#000" stroke-width="3"/>
<text x="755.1" y="968.8" font-family="'Liberation Serif', 'Times New Roman', serif" font-size="18.4" fill="#000" text-anchor="end" font-weight="bold" >0</text>
<line x1="757.9" y1="873.93" x2="765.9" y2="873.93" stroke="#000" stroke-width="3"/>
<text x="755.1" y="880.23" font-family="'Liberation Serif', 'Times New Roman', serif" font-size="18.4" fill="#000" text-anchor="end" font-weight="bold" >2</text>
<line x1="757.9" y1="785.37" x2="765.9" y2="785.37" stroke="#000" stroke-width="3"/>
<text x="755.1" y="791.67" font-family="'Liberation Serif', 'Times New Roman', serif" font-size="18.4" fill="#000" text-anchor="end" font-weight="bold" >4</text>
<line x1="757.9" y1="696.8" x2="765.9" y2="696.8" stroke="#000" stroke-width="3"/>
<text x="755.1" y="703.1" font-family="'Liberation Serif', 'Times New Roman', serif" font-size="18.4" fill="#000" text-anchor="end" font-weight="bold" >6</text>
<line x1="805.6" y1="962.5" x2="805.6" y2="970.5" stroke="#000" stroke-width="3"/>
<text x="811.6" y="987.5" font-family="'Liberation Serif', 'Times New Roman', serif" font-size="18" font-weight="bold" text-anchor="end" transform="rotate(-45 811.6 987.5)">Control</text>
<line x1="885.3" y1="962.5" x2="885.3" y2="970.5" stroke="#000" stroke-width="3"/>
<text x="891.3" y="987.5" font-family="'Liberation Serif', 'Times New Roman', serif" font-size="18" font-weight="bold" text-anchor="end" transform="rotate(-45 891.3 987.5)">Model</text>
<line x1="965.2" y1="962.5" x2="965.2" y2="970.5" stroke="#000" stroke-width="3"/>
<text x="971.2" y="987.5" font-family="'Liberation Serif', 'Times New Roman', serif" font-size="18" font-weight="bold" text-anchor="end" transform="rotate(-45 971.2 987.5)">ILW-H</text>
<line x1="1044.8" y1="962.5" x2="1044.8" y2="970.5" stroke="#000" stroke-width="3"/>
<text x="1050.8" y="987.5" font-family="'Liberation Serif', 'Times New Roman', serif" font-size="18" font-weight="bold" text-anchor="end" transform="rotate(-45 1050.8 987.5)">ILW-M</text>
<line x1="1124.5" y1="962.5" x2="1124.5" y2="970.5" stroke="#000" stroke-width="3"/>
<text x="1130.5" y="987.5" font-family="'Liberation Serif', 'Times New Roman', serif" font-size="18" font-weight="bold" text-anchor="end" transform="rotate(-45 1130.5 987.5)">ILW-L</text>
<text x="732.4" y="830.65" font-family="'Liberation Serif', 'Times New Roman', serif" font-size="22" font-weight="bold" text-anchor="middle" transform="rotate(-90 732.4 830.65)">TLR4/<tspan font-style="italic">&#946;</tspan>-Actin</text>
<path d="M807.6 695.8V690H880.3V695.8" fill="none" stroke="#000" stroke-width="1.5"/>
<text x="842.8" y="692.9" font-family="'Liberation Sans', Arial, sans-serif" font-size="23.5" text-anchor="middle" letter-spacing="1.0">***</text>
<path d="M888.2 695.8V690H956.6V695.8" fill="none" stroke="#000" stroke-width="1.5"/>
<text x="921.5" y="684.6" font-family="'Liberation Sans', Arial, sans-serif" font-size="13.5" font-weight="bold" text-anchor="middle">##</text>
<path d="M888.2 670.3V664.5H1037.7V670.3" fill="none" stroke="#000" stroke-width="1.5"/>
<text x="963.3" y="659.5" font-family="'Liberation Sans', Arial, sans-serif" font-size="13.5" font-weight="bold" text-anchor="middle">#</text>
<rect x="1299.8" y="785.1" width="53.2" height="177.4" fill="#0000ff"/>
<line x1="1326.4" y1="775.7" x2="1326.4" y2="785.1" stroke="#0000ff" stroke-width="2"/>
<line x1="1313" y1="775.7" x2="1339.8" y2="775.7" stroke="#0000ff" stroke-width="2"/>
<rect x="1379.5" y="735.8" width="53.2" height="226.7" fill="#d60000"/>
<line x1="1406.1" y1="729.4" x2="1406.1" y2="735.8" stroke="#d60000" stroke-width="2"/>
<line x1="1392.7" y1="729.4" x2="1419.5" y2="729.4" stroke="#d60000" stroke-width="2"/>
<rect x="1459.3" y="796.8" width="53.2" height="165.7" fill="#90ff3a"/>
<line x1="1485.9" y1="791.8" x2="1485.9" y2="796.8" stroke="#90ff3a" stroke-width="2"/>
<line x1="1472.5" y1="791.8" x2="1499.3" y2="791.8" stroke="#90ff3a" stroke-width="2"/>
<rect x="1538.8" y="796.8" width="53.2" height="165.7" fill="#9412de"/>
<line x1="1565.4" y1="787.4" x2="1565.4" y2="796.8" stroke="#9412de" stroke-width="2"/>
<line x1="1552" y1="787.4" x2="1578.8" y2="787.4" stroke="#9412de" stroke-width="2"/>
<rect x="1618.8" y="766.9" width="53.2" height="195.6" fill="#e0601a"/>
<line x1="1645.4" y1="750.5" x2="1645.4" y2="766.9" stroke="#e0601a" stroke-width="2"/>
<line x1="1632" y1="750.5" x2="1658.8" y2="750.5" stroke="#e0601a" stroke-width="2"/>
<line x1="1286.3" y1="694.8" x2="1286.3" y2="962.5" stroke="#000" stroke-width="3"/>
<line x1="1278.3" y1="962.5" x2="1686.7" y2="962.5" stroke="#000" stroke-width="3"/>
<line x1="1278.3" y1="962.5" x2="1286.3" y2="962.5" stroke="#000" stroke-width="3"/>
<text x="1275.5" y="968.8" font-family="'Liberation Serif', 'Times New Roman', serif" font-size="18.4" fill="#000" text-anchor="end" font-weight="bold" >0.0</text>
<line x1="1278.3" y1="873.77" x2="1286.3" y2="873.77" stroke="#000" stroke-width="3"/>
<text x="1275.5" y="880.07" font-family="'Liberation Serif', 'Times New Roman', serif" font-size="18.4" fill="#000" text-anchor="end" font-weight="bold" >0.5</text>
<line x1="1278.3" y1="785.03" x2="1286.3" y2="785.03" stroke="#000" stroke-width="3"/>
<text x="1275.5" y="791.33" font-family="'Liberation Serif', 'Times New Roman', serif" font-size="18.4" fill="#000" text-anchor="end" font-weight="bold" >1.0</text>
<line x1="1278.3" y1="696.3" x2="1286.3" y2="696.3" stroke="#000" stroke-width="3"/>
<text x="1275.5" y="702.6" font-family="'Liberation Serif', 'Times New Roman', serif" font-size="18.4" fill="#000" text-anchor="end" font-weight="bold" >1.5</text>
<line x1="1326.4" y1="962.5" x2="1326.4" y2="970.5" stroke="#000" stroke-width="3"/>
<text x="1332.4" y="987.5" font-family="'Liberation Serif', 'Times New Roman', serif" font-size="18" font-weight="bold" text-anchor="end" transform="rotate(-45 1332.4 987.5)">Control</text>
<line x1="1406.1" y1="962.5" x2="1406.1" y2="970.5" stroke="#000" stroke-width="3"/>
<text x="1412.1" y="987.5" font-family="'Liberation Serif', 'Times New Roman', serif" font-size="18" font-weight="bold" text-anchor="end" transform="rotate(-45 1412.1 987.5)">Model</text>
<line x1="1485.9" y1="962.5" x2="1485.9" y2="970.5" stroke="#000" stroke-width="3"/>
<text x="1491.9" y="987.5" font-family="'Liberation Serif', 'Times New Roman', serif" font-size="18" font-weight="bold" text-anchor="end" transform="rotate(-45 1491.9 987.5)">ILW-H</text>
<line x1="1565.4" y1="962.5" x2="1565.4" y2="970.5" stroke="#000" stroke-width="3"/>
<text x="1571.4" y="987.5" font-family="'Liberation Serif', 'Times New Roman', serif" font-size="18" font-weight="bold" text-anchor="end" transform="rotate(-45 1571.4 987.5)">ILW-M</text>
<line x1="1645.4" y1="962.5" x2="1645.4" y2="970.5" stroke="#000" stroke-width="3"/>
<text x="1651.4" y="987.5" font-family="'Liberation Serif', 'Times New Roman', serif" font-size="18" font-weight="bold" text-anchor="end" transform="rotate(-45 1651.4 987.5)">ILW-L</text>
<text x="1239.4" y="818.3" font-family="'Liberation Serif', 'Times New Roman', serif" font-size="22" font-weight="bold" text-anchor="middle" transform="rotate(-90 1239.4 818.3)">MyD88/<tspan font-style="italic">&#946;</tspan>-Actin</text>
<path d="M1328.1 702.8V697H1401.5V702.8" fill="none" stroke="#000" stroke-width="1.5"/>
<text x="1364.4" y="696.9" font-family="'Liberation Sans', Arial, sans-serif" font-size="23.5" text-anchor="middle" letter-spacing="1.0">*</text>
<path d="M1409.2 702.8V697H1477.3V702.8" fill="none" stroke="#000" stroke-width="1.5"/>
<text x="1442.2" y="689.3" font-family="'Liberation Sans', Arial, sans-serif" font-size="13.5" font-weight="bold" text-anchor="middle">##</text>
<path d="M1409.2 676.8V671H1557V676.8" fill="none" stroke="#000" stroke-width="1.5"/>
<text x="1482.1" y="661" font-family="'Liberation Sans', Arial, sans-serif" font-size="13.5" font-weight="bold" text-anchor="middle">##</text>
<rect x="219" y="1256.3" width="53.2" height="177.2" fill="#0000ff"/>
<line x1="245.6" y1="1242.6" x2="245.6" y2="1256.3" stroke="#0000ff" stroke-width="2"/>
<line x1="232.2" y1="1242.6" x2="259" y2="1242.6" stroke="#0000ff" stroke-width="2"/>
<rect x="298.8" y="1260.1" width="53.2" height="173.4" fill="#d60000"/>
<line x1="325.4" y1="1257.5" x2="325.4" y2="1260.1" stroke="#d60000" stroke-width="2"/>
<line x1="312" y1="1257.5" x2="338.8" y2="1257.5" stroke="#d60000" stroke-width="2"/>
<rect x="378.6" y="1263.9" width="53.2" height="169.6" fill="#90ff3a"/>
<line x1="405.2" y1="1256.6" x2="405.2" y2="1263.9" stroke="#90ff3a" stroke-width="2"/>
<line x1="391.8" y1="1256.6" x2="418.6" y2="1256.6" stroke="#90ff3a" stroke-width="2"/>
<rect x="458.3" y="1272.2" width="53.2" height="161.3" fill="#9412de"/>
<line x1="484.9" y1="1268" x2="484.9" y2="1272.2" stroke="#9412de" stroke-width="2"/>
<line x1="471.5" y1="1268" x2="498.3" y2="1268" stroke="#9412de" stroke-width="2"/>
<rect x="538" y="1264.2" width="53.2" height="169.3" fill="#e0601a"/>
<line x1="564.6" y1="1259.5" x2="564.6" y2="1264.2" stroke="#e0601a" stroke-width="2"/>
<line x1="551.2" y1="1259.5" x2="578" y2="1259.5" stroke="#e0601a" stroke-width="2"/>
<line x1="205.9" y1="1165.3" x2="205.9" y2="1433.5" stroke="#000" stroke-width="3"/>
<line x1="197.9" y1="1433.5" x2="605.9" y2="1433.5" stroke="#000" stroke-width="3"/>
<line x1="197.9" y1="1433.5" x2="205.9" y2="1433.5" stroke="#000" stroke-width="3"/>
<text x="195.1" y="1439.8" font-family="'Liberation Serif', 'Times New Roman', serif" font-size="18.4" fill="#000" text-anchor="end" font-weight="bold" >0.0</text>
<line x1="197.9" y1="1344.6" x2="205.9" y2="1344.6" stroke="#000" stroke-width="3"/>
<text x="195.1" y="1350.9" font-family="'Liberation Serif', 'Times New Roman', serif" font-size="18.4" fill="#000" text-anchor="end" font-weight="bold" >0.5</text>
<line x1="197.9" y1="1255.7" x2="205.9" y2="1255.7" stroke="#000" stroke-width="3"/>
<text x="195.1" y="1262" font-family="'Liberation Serif', 'Times New Roman', serif" font-size="18.4" fill="#000" text-anchor="end" font-weight="bold" >1.0</text>
<line x1="197.9" y1="1166.8" x2="205.9" y2="1166.8" stroke="#000" stroke-width="3"/>
<text x="195.1" y="1173.1" font-family="'Liberation Serif', 'Times New Roman', serif" font-size="18.4" fill="#000" text-anchor="end" font-weight="bold" >1.5</text>
<line x1="245.6" y1="1433.5" x2="245.6" y2="1441.5" stroke="#000" stroke-width="3"/>
<text x="251.6" y="1458.5" font-family="'Liberation Serif', 'Times New Roman', serif" font-size="18" font-weight="bold" text-anchor="end" transform="rotate(-45 251.6 1458.5)">Control</text>
<line x1="325.4" y1="1433.5" x2="325.4" y2="1441.5" stroke="#000" stroke-width="3"/>
<text x="331.4" y="1458.5" font-family="'Liberation Serif', 'Times New Roman', serif" font-size="18" font-weight="bold" text-anchor="end" transform="rotate(-45 331.4 1458.5)">Model</text>
<line x1="405.2" y1="1433.5" x2="405.2" y2="1441.5" stroke="#000" stroke-width="3"/>
<text x="411.2" y="1458.5" font-family="'Liberation Serif', 'Times New Roman', serif" font-size="18" font-weight="bold" text-anchor="end" transform="rotate(-45 411.2 1458.5)">ILW-H</text>
<line x1="484.9" y1="1433.5" x2="484.9" y2="1441.5" stroke="#000" stroke-width="3"/>
<text x="490.9" y="1458.5" font-family="'Liberation Serif', 'Times New Roman', serif" font-size="18" font-weight="bold" text-anchor="end" transform="rotate(-45 490.9 1458.5)">ILW-M</text>
<line x1="564.6" y1="1433.5" x2="564.6" y2="1441.5" stroke="#000" stroke-width="3"/>
<text x="570.6" y="1458.5" font-family="'Liberation Serif', 'Times New Roman', serif" font-size="18" font-weight="bold" text-anchor="end" transform="rotate(-45 570.6 1458.5)">ILW-L</text>
<text x="159" y="1301.05" font-family="'Liberation Serif', 'Times New Roman', serif" font-size="22" font-weight="bold" text-anchor="middle" transform="rotate(-90 159 1301.05)">NF-&#954;B/<tspan font-style="italic">&#946;</tspan>-Actin</text>
<rect x="778.5" y="1298.5" width="53.2" height="133.1" fill="#0000ff"/>
<line x1="805.1" y1="1291.2" x2="805.1" y2="1298.5" stroke="#0000ff" stroke-width="2"/>
<line x1="791.7" y1="1291.2" x2="818.5" y2="1291.2" stroke="#0000ff" stroke-width="2"/>
<rect x="858.3" y="1221.6" width="53.2" height="210" fill="#d60000"/>
<line x1="884.9" y1="1213" x2="884.9" y2="1221.6" stroke="#d60000" stroke-width="2"/>
<line x1="871.5" y1="1213" x2="898.3" y2="1213" stroke="#d60000" stroke-width="2"/>
<rect x="938" y="1334" width="53.2" height="97.6" fill="#90ff3a"/>
<line x1="964.6" y1="1330.9" x2="964.6" y2="1334" stroke="#90ff3a" stroke-width="2"/>
<line x1="951.2" y1="1330.9" x2="978" y2="1330.9" stroke="#90ff3a" stroke-width="2"/>
<rect x="1017.4" y="1261.6" width="53.2" height="170" fill="#9412de"/>
<line x1="1044" y1="1250.6" x2="1044" y2="1261.6" stroke="#9412de" stroke-width="2"/>
<line x1="1030.6" y1="1250.6" x2="1057.4" y2="1250.6" stroke="#9412de" stroke-width="2"/>
<rect x="1097.2" y="1225.5" width="53.2" height="206.1" fill="#e0601a"/>
<line x1="1123.8" y1="1217" x2="1123.8" y2="1225.5" stroke="#e0601a" stroke-width="2"/>
<line x1="1110.4" y1="1217" x2="1137.2" y2="1217" stroke="#e0601a" stroke-width="2"/>
<line x1="765.3" y1="1164.1" x2="765.3" y2="1431.6" stroke="#000" stroke-width="3"/>
<line x1="757.3" y1="1431.6" x2="1165.1" y2="1431.6" stroke="#000" stroke-width="3"/>
<line x1="757.3" y1="1431.6" x2="765.3" y2="1431.6" stroke="#000" stroke-width="3"/>
<text x="754.5" y="1437.9" font-family="'Liberation Serif', 'Times New Roman', serif" font-size="18.4" fill="#000" text-anchor="end" font-weight="bold" >0.0</text>
<line x1="757.3" y1="1365.1" x2="765.3" y2="1365.1" stroke="#000" stroke-width="3"/>
<text x="754.5" y="1371.4" font-family="'Liberation Serif', 'Times New Roman', serif" font-size="18.4" fill="#000" text-anchor="end" font-weight="bold" >0.5</text>
<line x1="757.3" y1="1298.6" x2="765.3" y2="1298.6" stroke="#000" stroke-width="3"/>
<text x="754.5" y="1304.9" font-family="'Liberation Serif', 'Times New Roman', serif" font-size="18.4" fill="#000" text-anchor="end" font-weight="bold" >1.0</text>
<line x1="757.3" y1="1232.1" x2="765.3" y2="1232.1" stroke="#000" stroke-width="3"/>
<text x="754.5" y="1238.4" font-family="'Liberation Serif', 'Times New Roman', serif" font-size="18.4" fill="#000" text-anchor="end" font-weight="bold" >1.5</text>
<line x1="757.3" y1="1165.6" x2="765.3" y2="1165.6" stroke="#000" stroke-width="3"/>
<text x="754.5" y="1171.9" font-family="'Liberation Serif', 'Times New Roman', serif" font-size="18.4" fill="#000" text-anchor="end" font-weight="bold" >2.0</text>
<line x1="805.1" y1="1431.6" x2="805.1" y2="1439.6" stroke="#000" stroke-width="3"/>
<text x="811.1" y="1456.6" font-family="'Liberation Serif', 'Times New Roman', serif" font-size="18" font-weight="bold" text-anchor="end" transform="rotate(-45 811.1 1456.6)">Control</text>
<line x1="884.9" y1="1431.6" x2="884.9" y2="1439.6" stroke="#000" stroke-width="3"/>
<text x="890.9" y="1456.6" font-family="'Liberation Serif', 'Times New Roman', serif" font-size="18" font-weight="bold" text-anchor="end" transform="rotate(-45 890.9 1456.6)">Model</text>
<line x1="964.6" y1="1431.6" x2="964.6" y2="1439.6" stroke="#000" stroke-width="3"/>
<text x="970.6" y="1456.6" font-family="'Liberation Serif', 'Times New Roman', serif" font-size="18" font-weight="bold" text-anchor="end" transform="rotate(-45 970.6 1456.6)">ILW-H</text>
<line x1="1044" y1="1431.6" x2="1044" y2="1439.6" stroke="#000" stroke-width="3"/>
<text x="1050" y="1456.6" font-family="'Liberation Serif', 'Times New Roman', serif" font-size="18" font-weight="bold" text-anchor="end" transform="rotate(-45 1050 1456.6)">ILW-M</text>
<line x1="1123.8" y1="1431.6" x2="1123.8" y2="1439.6" stroke="#000" stroke-width="3"/>
<text x="1129.8" y="1456.6" font-family="'Liberation Serif', 'Times New Roman', serif" font-size="18" font-weight="bold" text-anchor="end" transform="rotate(-45 1129.8 1456.6)">ILW-L</text>
<text x="718.5" y="1299.25" font-family="'Liberation Serif', 'Times New Roman', serif" font-size="22" font-weight="bold" text-anchor="middle" transform="rotate(-90 718.5 1299.25)">p-NF-&#954;B-p56/&#946;-Actin</text>
<path d="M806.6 1174.4V1168.6H880.5V1174.4" fill="none" stroke="#000" stroke-width="1.5"/>
<text x="843.4" y="1169.9" font-family="'Liberation Sans', Arial, sans-serif" font-size="23.5" text-anchor="middle" letter-spacing="1.0">**</text>
<path d="M888.2 1174.4V1168.6H956.2V1174.4" fill="none" stroke="#000" stroke-width="1.5"/>
<text x="920.5" y="1162.8" font-family="'Liberation Sans', Arial, sans-serif" font-size="13.5" font-weight="bold" text-anchor="middle">###</text>
<path d="M888.2 1148.7V1142.9H1037.2V1148.7" fill="none" stroke="#000" stroke-width="1.5"/>
<text x="964" y="1137.6" font-family="'Liberation Sans', Arial, sans-serif" font-size="13.5" font-weight="bold" text-anchor="middle">#</text>
<rect x="1301.2" y="1307.1" width="53.2" height="135.1" fill="#0000ff"/>
<line x1="1327.8" y1="1294.6" x2="1327.8" y2="1307.1" stroke="#0000ff" stroke-width="2"/>
<line x1="1314.4" y1="1294.6" x2="1341.2" y2="1294.6" stroke="#0000ff" stroke-width="2"/>
<rect x="1380.9" y="1226.8" width="53.2" height="215.4" fill="#d60000"/>
<line x1="1407.5" y1="1217.6" x2="1407.5" y2="1226.8" stroke="#d60000" stroke-width="2"/>
<line x1="1394.1" y1="1217.6" x2="1420.9" y2="1217.6" stroke="#d60000" stroke-width="2"/>
<rect x="1460.5" y="1339.2" width="53.2" height="103" fill="#90ff3a"/>
<line x1="1487.1" y1="1331.8" x2="1487.1" y2="1339.2" stroke="#90ff3a" stroke-width="2"/>
<line x1="1473.7" y1="1331.8" x2="1500.5" y2="1331.8" stroke="#90ff3a" stroke-width="2"/>
<rect x="1540.2" y="1254.6" width="53.2" height="187.6" fill="#9412de"/>
<line x1="1566.8" y1="1239.3" x2="1566.8" y2="1254.6" stroke="#9412de" stroke-width="2"/>
<line x1="1553.4" y1="1239.3" x2="1580.2" y2="1239.3" stroke="#9412de" stroke-width="2"/>
<rect x="1619.7" y="1226.1" width="53.2" height="216.1" fill="#e0601a"/>
<line x1="1646.3" y1="1221" x2="1646.3" y2="1226.1" stroke="#e0601a" stroke-width="2"/>
<line x1="1632.9" y1="1221" x2="1659.7" y2="1221" stroke="#e0601a" stroke-width="2"/>
<line x1="1288" y1="1174.3" x2="1288" y2="1442.2" stroke="#000" stroke-width="3"/>
<line x1="1280" y1="1442.2" x2="1687.6" y2="1442.2" stroke="#000" stroke-width="3"/>
<line x1="1280" y1="1442.2" x2="1288" y2="1442.2" stroke="#000" stroke-width="3"/>
<text x="1277.2" y="1448.5" font-family="'Liberation Serif', 'Times New Roman', serif" font-size="18.4" fill="#000" text-anchor="end" font-weight="bold" >0.0</text>
<line x1="1280" y1="1375.6" x2="1288" y2="1375.6" stroke="#000" stroke-width="3"/>
<text x="1277.2" y="1381.9" font-family="'Liberation Serif', 'Times New Roman', serif" font-size="18.4" fill="#000" text-anchor="end" font-weight="bold" >0.5</text>
<line x1="1280" y1="1309" x2="1288" y2="1309" stroke="#000" stroke-width="3"/>
<text x="1277.2" y="1315.3" font-family="'Liberation Serif', 'Times New Roman', serif" font-size="18.4" fill="#000" text-anchor="end" font-weight="bold" >1.0</text>
<line x1="1280" y1="1242.4" x2="1288" y2="1242.4" stroke="#000" stroke-width="3"/>
<text x="1277.2" y="1248.7" font-family="'Liberation Serif', 'Times New Roman', serif" font-size="18.4" fill="#000" text-anchor="end" font-weight="bold" >1.5</text>
<line x1="1280" y1="1175.8" x2="1288" y2="1175.8" stroke="#000" stroke-width="3"/>
<text x="1277.2" y="1182.1" font-family="'Liberation Serif', 'Times New Roman', serif" font-size="18.4" fill="#000" text-anchor="end" font-weight="bold" >2.0</text>
<line x1="1327.8" y1="1442.2" x2="1327.8" y2="1450.2" stroke="#000" stroke-width="3"/>
<text x="1333.8" y="1467.2" font-family="'Liberation Serif', 'Times New Roman', serif" font-size="18" font-weight="bold" text-anchor="end" transform="rotate(-45 1333.8 1467.2)">Control</text>
<line x1="1407.5" y1="1442.2" x2="1407.5" y2="1450.2" stroke="#000" stroke-width="3"/>
<text x="1413.5" y="1467.2" font-family="'Liberation Serif', 'Times New Roman', serif" font-size="18" font-weight="bold" text-anchor="end" transform="rotate(-45 1413.5 1467.2)">Model</text>
<line x1="1487.1" y1="1442.2" x2="1487.1" y2="1450.2" stroke="#000" stroke-width="3"/>
<text x="1493.1" y="1467.2" font-family="'Liberation Serif', 'Times New Roman', serif" font-size="18" font-weight="bold" text-anchor="end" transform="rotate(-45 1493.1 1467.2)">ILW-H</text>
<line x1="1566.8" y1="1442.2" x2="1566.8" y2="1450.2" stroke="#000" stroke-width="3"/>
<text x="1572.8" y="1467.2" font-family="'Liberation Serif', 'Times New Roman', serif" font-size="18" font-weight="bold" text-anchor="end" transform="rotate(-45 1572.8 1467.2)">ILW-M</text>
<line x1="1646.3" y1="1442.2" x2="1646.3" y2="1450.2" stroke="#000" stroke-width="3"/>
<text x="1652.3" y="1467.2" font-family="'Liberation Serif', 'Times New Roman', serif" font-size="18" font-weight="bold" text-anchor="end" transform="rotate(-45 1652.3 1467.2)">ILW-L</text>
<text x="1241" y="1309.6" font-family="'Liberation Serif', 'Times New Roman', serif" font-size="22" font-weight="bold" text-anchor="middle" transform="rotate(-90 1241 1309.6)">p-NF-&#954;B-p56/NF-&#954;B-p56</text>
<path d="M1328.4 1184.3V1178.5H1401.4V1184.3" fill="none" stroke="#000" stroke-width="1.5"/>
<text x="1364.8" y="1178.7" font-family="'Liberation Sans', Arial, sans-serif" font-size="23.5" text-anchor="middle" letter-spacing="1.0">**</text>
<path d="M1409.3 1184.3V1178.5H1477.2V1184.3" fill="none" stroke="#000" stroke-width="1.5"/>
<text x="1441.7" y="1171.6" font-family="'Liberation Sans', Arial, sans-serif" font-size="13.5" font-weight="bold" text-anchor="middle">###</text>
<path d="M1408.8 1154.5V1148.7H1567V1154.5" fill="none" stroke="#000" stroke-width="1.5"/>
<text x="1488.4" y="1141.5" font-family="'Liberation Sans', Arial, sans-serif" font-size="13.5" font-weight="bold" text-anchor="middle">#</text>
<rect x="222.5" y="1770.6" width="53.2" height="104.65" fill="#0000ff"/>
<line x1="249.1" y1="1758.1" x2="249.1" y2="1770.6" stroke="#0000ff" stroke-width="2"/>
<line x1="235.7" y1="1758.1" x2="262.5" y2="1758.1" stroke="#0000ff" stroke-width="2"/>
<rect x="302.3" y="1679.1" width="53.2" height="196.15" fill="#d60000"/>
<line x1="328.9" y1="1660.7" x2="328.9" y2="1679.1" stroke="#d60000" stroke-width="2"/>
<line x1="315.5" y1="1660.7" x2="342.3" y2="1660.7" stroke="#d60000" stroke-width="2"/>
<rect x="382" y="1748" width="53.2" height="127.25" fill="#90ff3a"/>
<line x1="408.6" y1="1737" x2="408.6" y2="1748" stroke="#90ff3a" stroke-width="2"/>
<line x1="395.2" y1="1737" x2="422" y2="1737" stroke="#90ff3a" stroke-width="2"/>
<rect x="461.3" y="1743.6" width="53.2" height="131.65" fill="#9412de"/>
<line x1="487.9" y1="1732.3" x2="487.9" y2="1743.6" stroke="#9412de" stroke-width="2"/>
<line x1="474.5" y1="1732.3" x2="501.3" y2="1732.3" stroke="#9412de" stroke-width="2"/>
<rect x="541.1" y="1729.6" width="53.2" height="145.65" fill="#e0601a"/>
<line x1="567.7" y1="1715.1" x2="567.7" y2="1729.6" stroke="#e0601a" stroke-width="2"/>
<line x1="554.3" y1="1715.1" x2="581.1" y2="1715.1" stroke="#e0601a" stroke-width="2"/>
<line x1="209.15" y1="1607.9" x2="209.15" y2="1875.25" stroke="#000" stroke-width="3"/>
<line x1="201.15" y1="1875.25" x2="609" y2="1875.25" stroke="#000" stroke-width="3"/>
<line x1="201.15" y1="1875.25" x2="209.15" y2="1875.25" stroke="#000" stroke-width="3"/>
<text x="198.35" y="1881.55" font-family="'Liberation Serif', 'Times New Roman', serif" font-size="18.4" fill="#000" text-anchor="end" font-weight="bold" >0</text>
<line x1="201.15" y1="1786.63" x2="209.15" y2="1786.63" stroke="#000" stroke-width="3"/>
<text x="198.35" y="1792.93" font-family="'Liberation Serif', 'Times New Roman', serif" font-size="18.4" fill="#000" text-anchor="end" font-weight="bold" >20000</text>
<line x1="201.15" y1="1698.02" x2="209.15" y2="1698.02" stroke="#000" stroke-width="3"/>
<text x="198.35" y="1704.32" font-family="'Liberation Serif', 'Times New Roman', serif" font-size="18.4" fill="#000" text-anchor="end" font-weight="bold" >40000</text>
<line x1="201.15" y1="1609.4" x2="209.15" y2="1609.4" stroke="#000" stroke-width="3"/>
<text x="198.35" y="1615.7" font-family="'Liberation Serif', 'Times New Roman', serif" font-size="18.4" fill="#000" text-anchor="end" font-weight="bold" >60000</text>
<line x1="249.1" y1="1875.25" x2="249.1" y2="1883.25" stroke="#000" stroke-width="3"/>
<text x="255.1" y="1900.25" font-family="'Liberation Serif', 'Times New Roman', serif" font-size="18" font-weight="bold" text-anchor="end" transform="rotate(-45 255.1 1900.25)">Control</text>
<line x1="328.9" y1="1875.25" x2="328.9" y2="1883.25" stroke="#000" stroke-width="3"/>
<text x="334.9" y="1900.25" font-family="'Liberation Serif', 'Times New Roman', serif" font-size="18" font-weight="bold" text-anchor="end" transform="rotate(-45 334.9 1900.25)">Model</text>
<line x1="408.6" y1="1875.25" x2="408.6" y2="1883.25" stroke="#000" stroke-width="3"/>
<text x="414.6" y="1900.25" font-family="'Liberation Serif', 'Times New Roman', serif" font-size="18" font-weight="bold" text-anchor="end" transform="rotate(-45 414.6 1900.25)">ILW-H</text>
<line x1="487.9" y1="1875.25" x2="487.9" y2="1883.25" stroke="#000" stroke-width="3"/>
<text x="493.9" y="1900.25" font-family="'Liberation Serif', 'Times New Roman', serif" font-size="18" font-weight="bold" text-anchor="end" transform="rotate(-45 493.9 1900.25)">ILW-M</text>
<line x1="567.7" y1="1875.25" x2="567.7" y2="1883.25" stroke="#000" stroke-width="3"/>
<text x="573.7" y="1900.25" font-family="'Liberation Serif', 'Times New Roman', serif" font-size="18" font-weight="bold" text-anchor="end" transform="rotate(-45 573.7 1900.25)">ILW-L</text>
<text x="138" y="1741.15" font-family="'Liberation Serif', 'Times New Roman', serif" font-size="22" font-weight="bold" text-anchor="middle" transform="rotate(-90 138 1741.15)">TNF-<tspan font-style="italic">&#945;</tspan> in liver (ng/g)</text>
<path d="M250.6 1621.2V1615.4H323.7V1621.2" fill="none" stroke="#000" stroke-width="1.5"/>
<text x="287.3" y="1616.4" font-family="'Liberation Sans', Arial, sans-serif" font-size="23.5" text-anchor="middle" letter-spacing="1.0">**</text>
<path d="M331.9 1621.2V1615.4H399.6V1621.2" fill="none" stroke="#000" stroke-width="1.5"/>
<text x="366.1" y="1609" font-family="'Liberation Sans', Arial, sans-serif" font-size="13.5" font-weight="bold" text-anchor="middle">##</text>
<path d="M331.9 1596.6V1590.8H480.9V1596.6" fill="none" stroke="#000" stroke-width="1.5"/>
<text x="402.5" y="1583.6" font-family="'Liberation Sans', Arial, sans-serif" font-size="13.5" font-weight="bold" text-anchor="middle">#</text>
<path d="M331.9 1570.4V1564.6H567.3V1570.4" fill="none" stroke="#000" stroke-width="1.5"/>
<text x="445.1" y="1557" font-family="'Liberation Sans', Arial, sans-serif" font-size="13.5" font-weight="bold" text-anchor="middle">#</text>
<rect x="776.5" y="1706" width="53.2" height="175.8" fill="#0000ff"/>
<line x1="803.1" y1="1697.2" x2="803.1" y2="1706" stroke="#0000ff" stroke-width="2"/>
<line x1="789.7" y1="1697.2" x2="816.5" y2="1697.2" stroke="#0000ff" stroke-width="2"/>
<rect x="856" y="1653.2" width="53.2" height="228.6" fill="#d60000"/>
<line x1="882.6" y1="1638.8" x2="882.6" y2="1653.2" stroke="#d60000" stroke-width="2"/>
<line x1="869.2" y1="1638.8" x2="896" y2="1638.8" stroke="#d60000" stroke-width="2"/>
<rect x="935.9" y="1716.4" width="53.2" height="165.4" fill="#90ff3a"/>
<line x1="962.5" y1="1703.6" x2="962.5" y2="1716.4" stroke="#90ff3a" stroke-width="2"/>
<line x1="949.1" y1="1703.6" x2="975.9" y2="1703.6" stroke="#90ff3a" stroke-width="2"/>
<rect x="1015.6" y="1713" width="53.2" height="168.8" fill="#9412de"/>
<line x1="1042.2" y1="1703.9" x2="1042.2" y2="1713" stroke="#9412de" stroke-width="2"/>
<line x1="1028.8" y1="1703.9" x2="1055.6" y2="1703.9" stroke="#9412de" stroke-width="2"/>
<rect x="1094.9" y="1685.2" width="53.2" height="196.6" fill="#e0601a"/>
<line x1="1121.5" y1="1669.7" x2="1121.5" y2="1685.2" stroke="#e0601a" stroke-width="2"/>
<line x1="1108.1" y1="1669.7" x2="1134.9" y2="1669.7" stroke="#e0601a" stroke-width="2"/>
<line x1="763.3" y1="1614.2" x2="763.3" y2="1881.8" stroke="#000" stroke-width="3"/>
<line x1="755.3" y1="1881.8" x2="1162.8" y2="1881.8" stroke="#000" stroke-width="3"/>
<line x1="755.3" y1="1881.8" x2="763.3" y2="1881.8" stroke="#000" stroke-width="3"/>
<text x="752.5" y="1888.1" font-family="'Liberation Serif', 'Times New Roman', serif" font-size="18.4" fill="#000" text-anchor="end" font-weight="bold" >0</text>
<line x1="755.3" y1="1828.58" x2="763.3" y2="1828.58" stroke="#000" stroke-width="3"/>
<text x="752.5" y="1834.88" font-family="'Liberation Serif', 'Times New Roman', serif" font-size="18.4" fill="#000" text-anchor="end" font-weight="bold" >20</text>
<line x1="755.3" y1="1775.36" x2="763.3" y2="1775.36" stroke="#000" stroke-width="3"/>
<text x="752.5" y="1781.66" font-family="'Liberation Serif', 'Times New Roman', serif" font-size="18.4" fill="#000" text-anchor="end" font-weight="bold" >40</text>
<line x1="755.3" y1="1722.14" x2="763.3" y2="1722.14" stroke="#000" stroke-width="3"/>
<text x="752.5" y="1728.44" font-family="'Liberation Serif', 'Times New Roman', serif" font-size="18.4" fill="#000" text-anchor="end" font-weight="bold" >60</text>
<line x1="755.3" y1="1668.92" x2="763.3" y2="1668.92" stroke="#000" stroke-width="3"/>
<text x="752.5" y="1675.22" font-family="'Liberation Serif', 'Times New Roman', serif" font-size="18.4" fill="#000" text-anchor="end" font-weight="bold" >80</text>
<line x1="755.3" y1="1615.7" x2="763.3" y2="1615.7" stroke="#000" stroke-width="3"/>
<text x="752.5" y="1622" font-family="'Liberation Serif', 'Times New Roman', serif" font-size="18.4" fill="#000" text-anchor="end" font-weight="bold" >100</text>
<line x1="803.1" y1="1881.8" x2="803.1" y2="1889.8" stroke="#000" stroke-width="3"/>
<text x="809.1" y="1906.8" font-family="'Liberation Serif', 'Times New Roman', serif" font-size="18" font-weight="bold" text-anchor="end" transform="rotate(-45 809.1 1906.8)">Control</text>
<line x1="882.6" y1="1881.8" x2="882.6" y2="1889.8" stroke="#000" stroke-width="3"/>
<text x="888.6" y="1906.8" font-family="'Liberation Serif', 'Times New Roman', serif" font-size="18" font-weight="bold" text-anchor="end" transform="rotate(-45 888.6 1906.8)">Model</text>
<line x1="962.5" y1="1881.8" x2="962.5" y2="1889.8" stroke="#000" stroke-width="3"/>
<text x="968.5" y="1906.8" font-family="'Liberation Serif', 'Times New Roman', serif" font-size="18" font-weight="bold" text-anchor="end" transform="rotate(-45 968.5 1906.8)">ILW-H</text>
<line x1="1042.2" y1="1881.8" x2="1042.2" y2="1889.8" stroke="#000" stroke-width="3"/>
<text x="1048.2" y="1906.8" font-family="'Liberation Serif', 'Times New Roman', serif" font-size="18" font-weight="bold" text-anchor="end" transform="rotate(-45 1048.2 1906.8)">ILW-M</text>
<line x1="1121.5" y1="1881.8" x2="1121.5" y2="1889.8" stroke="#000" stroke-width="3"/>
<text x="1127.5" y="1906.8" font-family="'Liberation Serif', 'Times New Roman', serif" font-size="18" font-weight="bold" text-anchor="end" transform="rotate(-45 1127.5 1906.8)">ILW-L</text>
<text x="711.1" y="1737.1" font-family="'Liberation Serif', 'Times New Roman', serif" font-size="22" font-weight="bold" text-anchor="middle" transform="rotate(-90 711.1 1737.1)">IL-6&#160; in liver (ng/g)</text>
<path d="M807.7 1620.5V1614.7H874.9V1620.5" fill="none" stroke="#000" stroke-width="1.5"/>
<text x="844.1" y="1616.4" font-family="'Liberation Sans', Arial, sans-serif" font-size="23.5" text-anchor="middle" letter-spacing="1.0">**</text>
<path d="M888.6 1620.5V1614.7H963.4V1620.5" fill="none" stroke="#000" stroke-width="1.5"/>
<text x="927" y="1609.1" font-family="'Liberation Sans', Arial, sans-serif" font-size="13.5" font-weight="bold" text-anchor="middle">##</text>
<path d="M888.6 1598.2V1592.4H1042.9V1598.2" fill="none" stroke="#000" stroke-width="1.5"/>
<text x="966.8" y="1586.3" font-family="'Liberation Sans', Arial, sans-serif" font-size="13.5" font-weight="bold" text-anchor="middle">##</text>
<path d="M888.6 1574.9V1569.1H1122.7V1574.9" fill="none" stroke="#000" stroke-width="1.5"/>
<text x="1009.6" y="1562.1" font-family="'Liberation Sans', Arial, sans-serif" font-size="13.5" font-weight="bold" text-anchor="middle">#</text>
<rect x="1302.5" y="1741.7" width="53.2" height="137.9" fill="#0000ff"/>
<line x1="1329.1" y1="1732.8" x2="1329.1" y2="1741.7" stroke="#0000ff" stroke-width="2"/>
<line x1="1315.7" y1="1732.8" x2="1342.5" y2="1732.8" stroke="#0000ff" stroke-width="2"/>
<rect x="1381.8" y="1665.2" width="53.2" height="214.4" fill="#d60000"/>
<line x1="1408.4" y1="1642.3" x2="1408.4" y2="1665.2" stroke="#d60000" stroke-width="2"/>
<line x1="1395" y1="1642.3" x2="1421.8" y2="1642.3" stroke="#d60000" stroke-width="2"/>
<rect x="1461.6" y="1762" width="53.2" height="117.6" fill="#90ff3a"/>
<line x1="1488.2" y1="1751.6" x2="1488.2" y2="1762" stroke="#90ff3a" stroke-width="2"/>
<line x1="1474.8" y1="1751.6" x2="1501.6" y2="1751.6" stroke="#90ff3a" stroke-width="2"/>
<rect x="1541.4" y="1758.6" width="53.2" height="121" fill="#9412de"/>
<line x1="1568" y1="1750" x2="1568" y2="1758.6" stroke="#9412de" stroke-width="2"/>
<line x1="1554.6" y1="1750" x2="1581.4" y2="1750" stroke="#9412de" stroke-width="2"/>
<rect x="1621.1" y="1719.8" width="53.2" height="159.8" fill="#e0601a"/>
<line x1="1647.7" y1="1711.5" x2="1647.7" y2="1719.8" stroke="#e0601a" stroke-width="2"/>
<line x1="1634.3" y1="1711.5" x2="1661.1" y2="1711.5" stroke="#e0601a" stroke-width="2"/>
<line x1="1289.15" y1="1612.2" x2="1289.15" y2="1879.6" stroke="#000" stroke-width="3"/>
<line x1="1281.15" y1="1879.6" x2="1689" y2="1879.6" stroke="#000" stroke-width="3"/>
<line x1="1281.15" y1="1879.6" x2="1289.15" y2="1879.6" stroke="#000" stroke-width="3"/>
<text x="1278.35" y="1885.9" font-family="'Liberation Serif', 'Times New Roman', serif" font-size="18.4" fill="#000" text-anchor="end" font-weight="bold" >0</text>
<line x1="1281.15" y1="1790.97" x2="1289.15" y2="1790.97" stroke="#000" stroke-width="3"/>
<text x="1278.35" y="1797.27" font-family="'Liberation Serif', 'Times New Roman', serif" font-size="18.4" fill="#000" text-anchor="end" font-weight="bold" >40000</text>
<line x1="1281.15" y1="1702.33" x2="1289.15" y2="1702.33" stroke="#000" stroke-width="3"/>
<text x="1278.35" y="1708.63" font-family="'Liberation Serif', 'Times New Roman', serif" font-size="18.4" fill="#000" text-anchor="end" font-weight="bold" >80000</text>
<line x1="1281.15" y1="1613.7" x2="1289.15" y2="1613.7" stroke="#000" stroke-width="3"/>
<text x="1278.35" y="1620" font-family="'Liberation Serif', 'Times New Roman', serif" font-size="18.4" fill="#000" text-anchor="end" font-weight="bold" >120000</text>
<line x1="1329.1" y1="1879.6" x2="1329.1" y2="1887.6" stroke="#000" stroke-width="3"/>
<text x="1335.1" y="1904.6" font-family="'Liberation Serif', 'Times New Roman', serif" font-size="18" font-weight="bold" text-anchor="end" transform="rotate(-45 1335.1 1904.6)">Control</text>
<line x1="1408.4" y1="1879.6" x2="1408.4" y2="1887.6" stroke="#000" stroke-width="3"/>
<text x="1414.4" y="1904.6" font-family="'Liberation Serif', 'Times New Roman', serif" font-size="18" font-weight="bold" text-anchor="end" transform="rotate(-45 1414.4 1904.6)">Model</text>
<line x1="1488.2" y1="1879.6" x2="1488.2" y2="1887.6" stroke="#000" stroke-width="3"/>
<text x="1494.2" y="1904.6" font-family="'Liberation Serif', 'Times New Roman', serif" font-size="18" font-weight="bold" text-anchor="end" transform="rotate(-45 1494.2 1904.6)">ILW-H</text>
<line x1="1568" y1="1879.6" x2="1568" y2="1887.6" stroke="#000" stroke-width="3"/>
<text x="1574" y="1904.6" font-family="'Liberation Serif', 'Times New Roman', serif" font-size="18" font-weight="bold" text-anchor="end" transform="rotate(-45 1574 1904.6)">ILW-M</text>
<line x1="1647.7" y1="1879.6" x2="1647.7" y2="1887.6" stroke="#000" stroke-width="3"/>
<text x="1653.7" y="1904.6" font-family="'Liberation Serif', 'Times New Roman', serif" font-size="18" font-weight="bold" text-anchor="end" transform="rotate(-45 1653.7 1904.6)">ILW-L</text>
<text x="1210" y="1747.15" font-family="'Liberation Serif', 'Times New Roman', serif" font-size="22" font-weight="bold" text-anchor="middle" transform="rotate(-90 1210 1747.15)">IL-1&#946; in Liver (ng/g)</text>
<path d="M1330.5 1618.4V1612.6H1404.4V1618.4" fill="none" stroke="#000" stroke-width="1.5"/>
<text x="1367.5" y="1614.6" font-family="'Liberation Sans', Arial, sans-serif" font-size="23.5" text-anchor="middle" letter-spacing="1.0">**</text>
<path d="M1409.3 1618.4V1612.6H1477.2V1618.4" fill="none" stroke="#000" stroke-width="1.5"/>
<text x="1443.6" y="1606.9" font-family="'Liberation Sans', Arial, sans-serif" font-size="13.5" font-weight="bold" text-anchor="middle">##</text>
<path d="M1409.3 1594.3V1588.5H1556V1594.3" fill="none" stroke="#000" stroke-width="1.5"/>
<text x="1483.5" y="1582.8" font-family="'Liberation Sans', Arial, sans-serif" font-size="13.5" font-weight="bold" text-anchor="middle">##</text>
<path d="M1409.3 1571.8V1566H1644V1571.8" fill="none" stroke="#000" stroke-width="1.5"/>
<text x="1531.8" y="1561.6" font-family="'Liberation Sans', Arial, sans-serif" font-size="13.5" font-weight="bold" text-anchor="middle">#</text>
<rect x="224.9" y="2207.3" width="53.2" height="124.9" fill="#0000ff"/>
<line x1="251.5" y1="2200.7" x2="251.5" y2="2207.3" stroke="#0000ff" stroke-width="2"/>
<line x1="238.1" y1="2200.7" x2="264.9" y2="2200.7" stroke="#0000ff" stroke-width="2"/>
<rect x="304.6" y="2097.8" width="53.2" height="234.4" fill="#d60000"/>
<line x1="331.2" y1="2082.9" x2="331.2" y2="2097.8" stroke="#d60000" stroke-width="2"/>
<line x1="317.8" y1="2082.9" x2="344.6" y2="2082.9" stroke="#d60000" stroke-width="2"/>
<rect x="384.2" y="2179.6" width="53.2" height="152.6" fill="#90ff3a"/>
<line x1="410.8" y1="2173.3" x2="410.8" y2="2179.6" stroke="#90ff3a" stroke-width="2"/>
<line x1="397.4" y1="2173.3" x2="424.2" y2="2173.3" stroke="#90ff3a" stroke-width="2"/>
<rect x="464" y="2151.2" width="53.2" height="181" fill="#9412de"/>
<line x1="490.6" y1="2142.6" x2="490.6" y2="2151.2" stroke="#9412de" stroke-width="2"/>
<line x1="477.2" y1="2142.6" x2="504" y2="2142.6" stroke="#9412de" stroke-width="2"/>
<rect x="543.8" y="2142.6" width="53.2" height="189.6" fill="#e0601a"/>
<line x1="570.4" y1="2130.4" x2="570.4" y2="2142.6" stroke="#e0601a" stroke-width="2"/>
<line x1="557" y1="2130.4" x2="583.8" y2="2130.4" stroke="#e0601a" stroke-width="2"/>
<line x1="211.7" y1="2065.2" x2="211.7" y2="2332.2" stroke="#000" stroke-width="3"/>
<line x1="203.7" y1="2332.2" x2="611.7" y2="2332.2" stroke="#000" stroke-width="3"/>
<line x1="203.7" y1="2332.2" x2="211.7" y2="2332.2" stroke="#000" stroke-width="3"/>
<text x="200.9" y="2338.5" font-family="'Liberation Serif', 'Times New Roman', serif" font-size="18.4" fill="#000" text-anchor="end" font-weight="bold" >0</text>
<line x1="203.7" y1="2243.7" x2="211.7" y2="2243.7" stroke="#000" stroke-width="3"/>
<text x="200.9" y="2250" font-family="'Liberation Serif', 'Times New Roman', serif" font-size="18.4" fill="#000" text-anchor="end" font-weight="bold" >500</text>
<line x1="203.7" y1="2155.2" x2="211.7" y2="2155.2" stroke="#000" stroke-width="3"/>
<text x="200.9" y="2161.5" font-family="'Liberation Serif', 'Times New Roman', serif" font-size="18.4" fill="#000" text-anchor="end" font-weight="bold" >1000</text>
<line x1="203.7" y1="2066.7" x2="211.7" y2="2066.7" stroke="#000" stroke-width="3"/>
<text x="200.9" y="2073" font-family="'Liberation Serif', 'Times New Roman', serif" font-size="18.4" fill="#000" text-anchor="end" font-weight="bold" >1500</text>
<line x1="251.5" y1="2332.2" x2="251.5" y2="2340.2" stroke="#000" stroke-width="3"/>
<text x="257.5" y="2357.2" font-family="'Liberation Serif', 'Times New Roman', serif" font-size="18" font-weight="bold" text-anchor="end" transform="rotate(-45 257.5 2357.2)">Control</text>
<line x1="331.2" y1="2332.2" x2="331.2" y2="2340.2" stroke="#000" stroke-width="3"/>
<text x="337.2" y="2357.2" font-family="'Liberation Serif', 'Times New Roman', serif" font-size="18" font-weight="bold" text-anchor="end" transform="rotate(-45 337.2 2357.2)">Model</text>
<line x1="410.8" y1="2332.2" x2="410.8" y2="2340.2" stroke="#000" stroke-width="3"/>
<text x="416.8" y="2357.2" font-family="'Liberation Serif', 'Times New Roman', serif" font-size="18" font-weight="bold" text-anchor="end" transform="rotate(-45 416.8 2357.2)">ILW-H</text>
<line x1="490.6" y1="2332.2" x2="490.6" y2="2340.2" stroke="#000" stroke-width="3"/>
<text x="496.6" y="2357.2" font-family="'Liberation Serif', 'Times New Roman', serif" font-size="18" font-weight="bold" text-anchor="end" transform="rotate(-45 496.6 2357.2)">ILW-M</text>
<line x1="570.4" y1="2332.2" x2="570.4" y2="2340.2" stroke="#000" stroke-width="3"/>
<text x="576.4" y="2357.2" font-family="'Liberation Serif', 'Times New Roman', serif" font-size="18" font-weight="bold" text-anchor="end" transform="rotate(-45 576.4 2357.2)">ILW-L</text>
<text x="150.9" y="2188.6" font-family="'Liberation Serif', 'Times New Roman', serif" font-size="22" font-weight="bold" text-anchor="middle" transform="rotate(-90 150.9 2188.6)">TGF-&#946; in Liver (ug/g)</text>
<path d="M253.1 2058.8V2053H326.5V2058.8" fill="none" stroke="#000" stroke-width="1.5"/>
<text x="290" y="2053.5" font-family="'Liberation Sans', Arial, sans-serif" font-size="23.5" text-anchor="middle" letter-spacing="1.0">***</text>
<path d="M331.5 2058.8V2053H399.4V2058.8" fill="none" stroke="#000" stroke-width="1.5"/>
<text x="366.1" y="2046.3" font-family="'Liberation Sans', Arial, sans-serif" font-size="13.5" font-weight="bold" text-anchor="middle">##</text>
<path d="M331.5 2035.1V2029.3H478.2V2035.1" fill="none" stroke="#000" stroke-width="1.5"/>
<text x="403.6" y="2023.4" font-family="'Liberation Sans', Arial, sans-serif" font-size="13.5" font-weight="bold" text-anchor="middle">#</text>
<path d="M331.5 2012.4V2006.6H566.1V2012.4" fill="none" stroke="#000" stroke-width="1.5"/>
<text x="454.2" y="2001.2" font-family="'Liberation Sans', Arial, sans-serif" font-size="13.5" font-weight="bold" text-anchor="middle">#</text>
</svg>
</body></html>
